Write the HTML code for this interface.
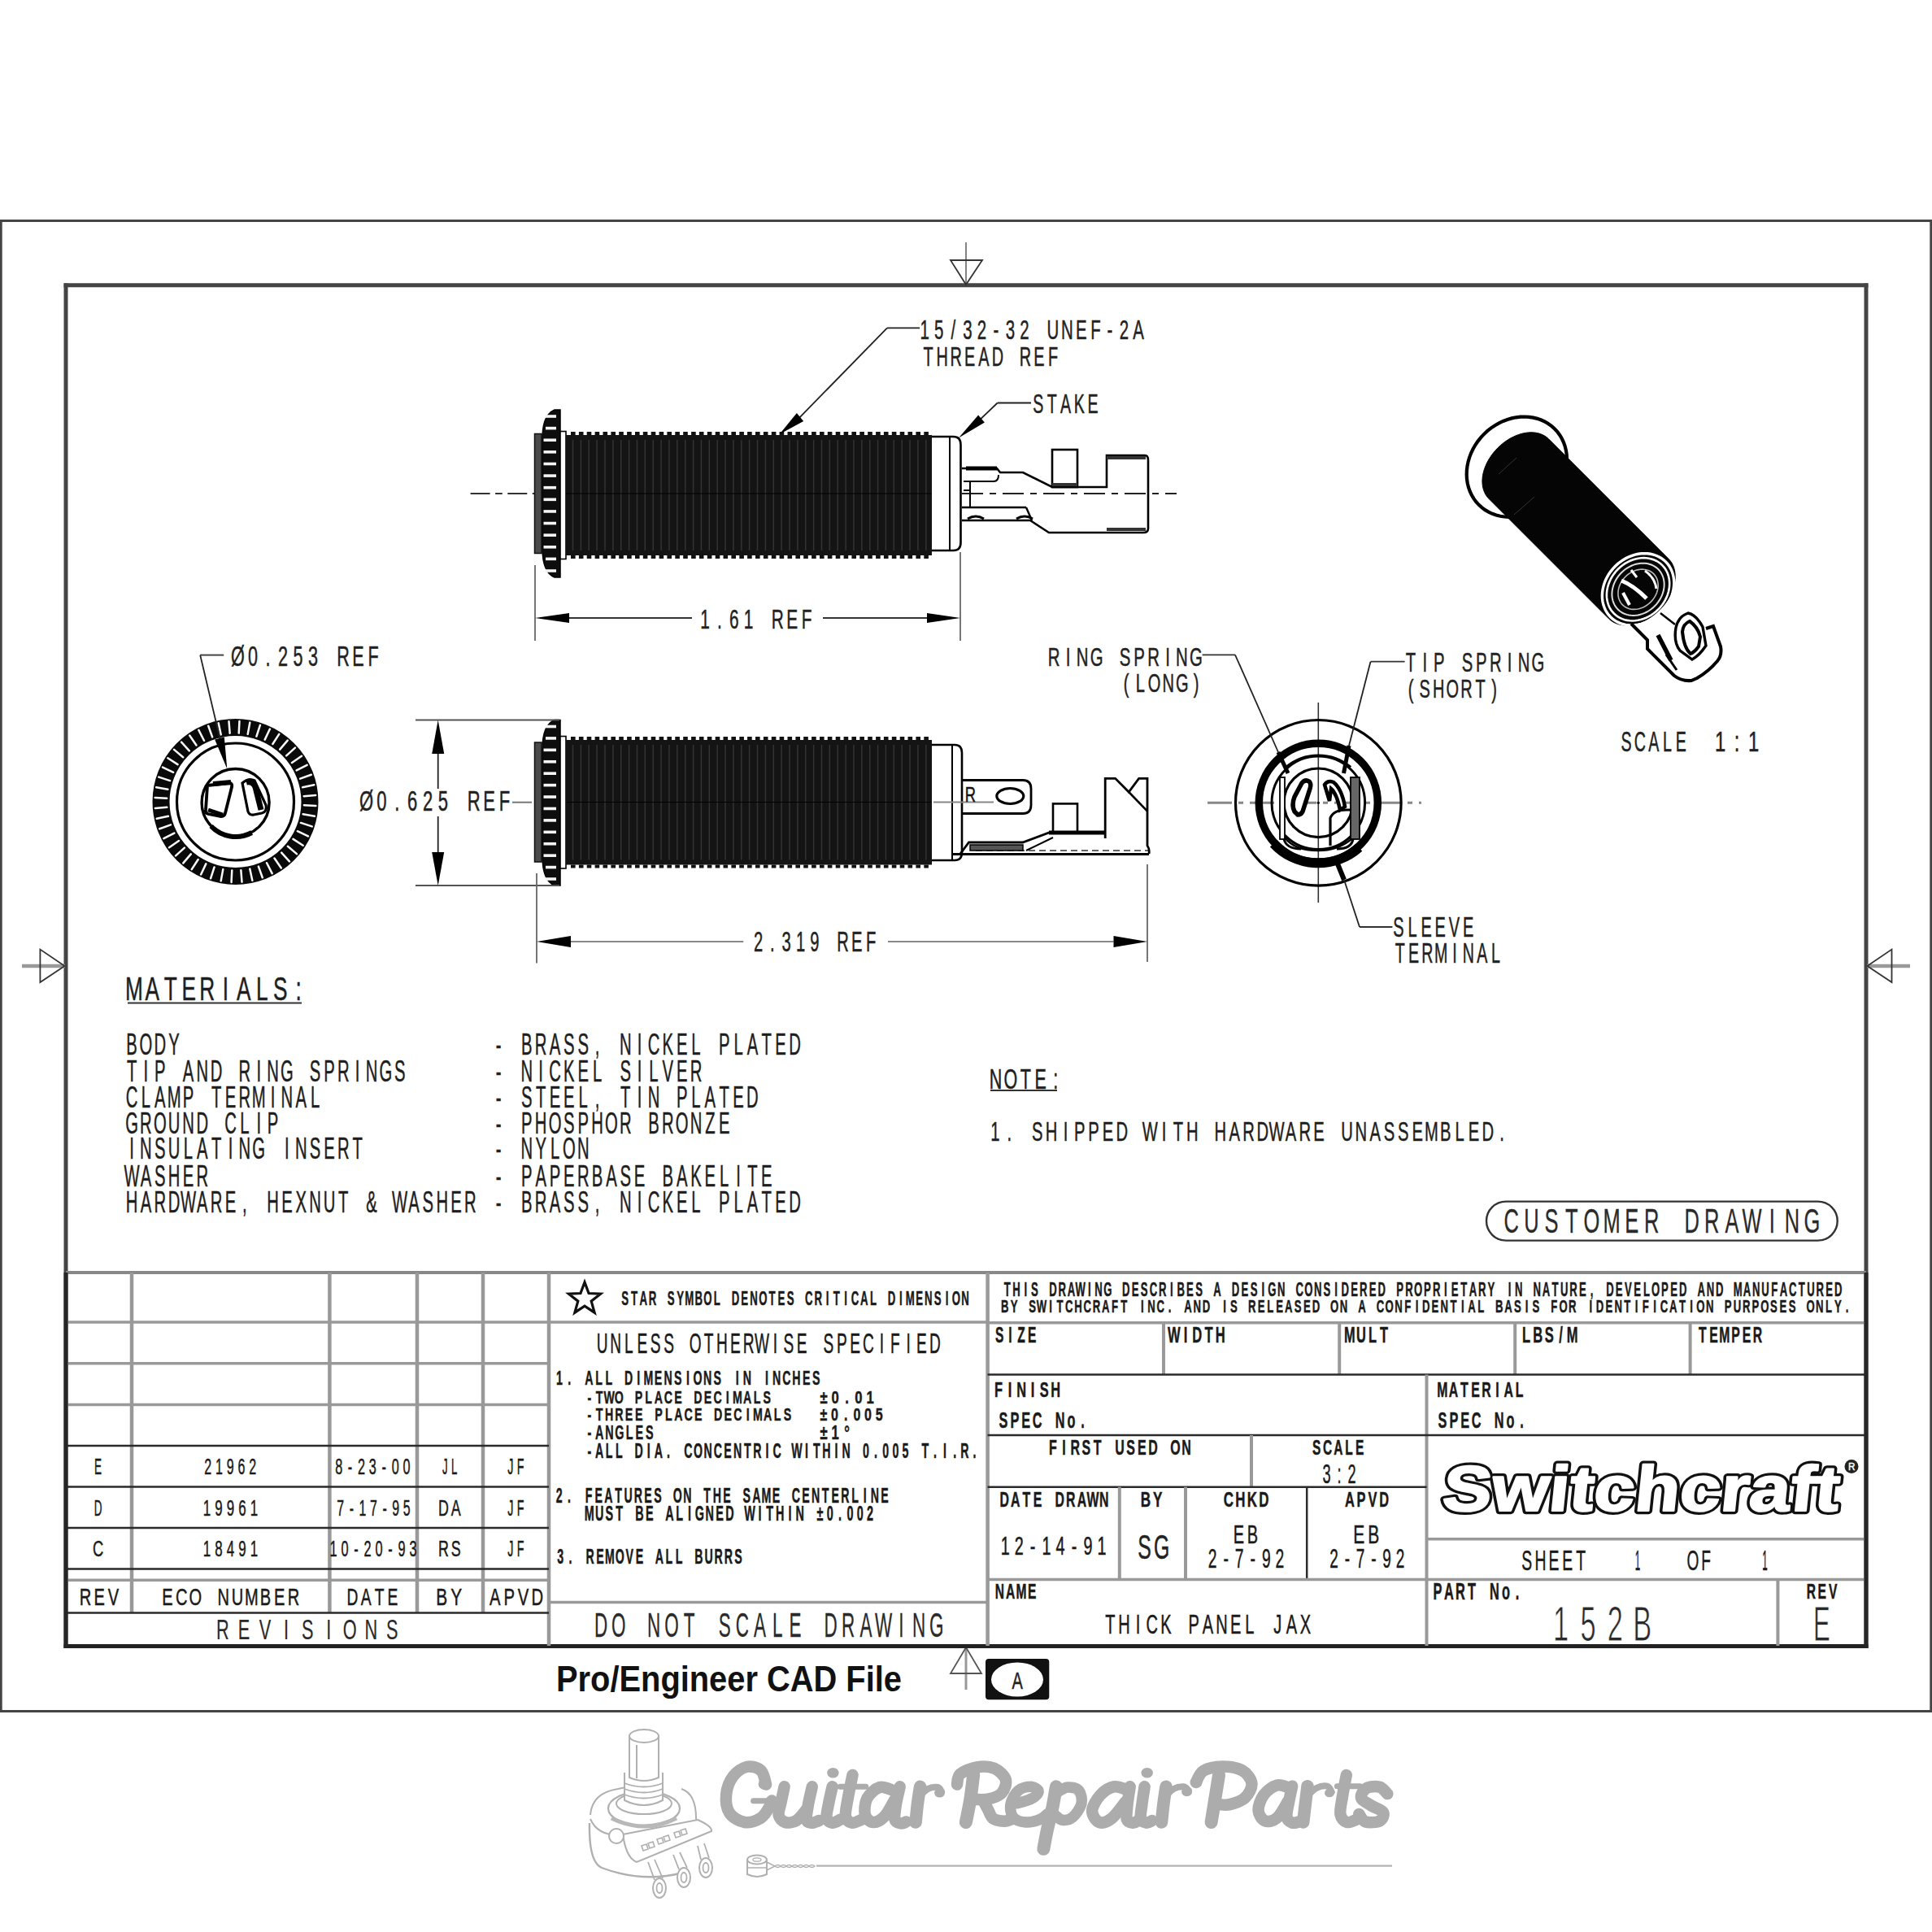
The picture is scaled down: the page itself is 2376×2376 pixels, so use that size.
<!DOCTYPE html>
<html><head><meta charset="utf-8"><title>Switchcraft 152B Thick Panel Jax</title>
<style>html,body{margin:0;padding:0;background:#fff;width:2376px;height:2376px;overflow:hidden}svg{display:block;font-family:"Liberation Sans",sans-serif}</style>
</head><body>
<svg width="2376" height="2376" viewBox="0 0 2376 2376"><rect x="0" y="0" width="2376" height="2376" fill="#fff"/>
<line x1="0.00" y1="271.50" x2="2376.00" y2="271.50" stroke="#444" stroke-width="3.00"/>
<line x1="1.30" y1="270.00" x2="1.30" y2="2106.00" stroke="#444" stroke-width="2.80"/>
<line x1="2374.70" y1="270.00" x2="2374.70" y2="2106.00" stroke="#444" stroke-width="2.80"/>
<line x1="0.00" y1="2104.50" x2="2376.00" y2="2104.50" stroke="#444" stroke-width="3.00"/>
<line x1="78.50" y1="350.80" x2="2297.50" y2="350.80" stroke="#444" stroke-width="5.00"/>
<line x1="81.00" y1="348.50" x2="81.00" y2="2027.00" stroke="#444" stroke-width="5.00"/>
<line x1="2295.00" y1="348.50" x2="2295.00" y2="2027.00" stroke="#444" stroke-width="5.00"/>
<line x1="1188.00" y1="298.00" x2="1188.00" y2="350.00" stroke="#777" stroke-width="1.80"/>
<path d="M1169,320 L1208,320 L1188,350 Z" fill="none" stroke="#333" stroke-width="1.80"/>
<line x1="1188.00" y1="2025.00" x2="1188.00" y2="2078.00" stroke="#999" stroke-width="3.00"/>
<path d="M1169,2058 L1207,2058 L1188,2026 Z" fill="none" stroke="#555" stroke-width="1.80"/>
<line x1="27.00" y1="1188.00" x2="80.00" y2="1188.00" stroke="#999" stroke-width="4.50"/>
<path d="M49.4,1167.6 L49.4,1208 L79.5,1188 Z" fill="none" stroke="#333" stroke-width="1.80"/>
<line x1="2296.00" y1="1188.00" x2="2349.00" y2="1188.00" stroke="#999" stroke-width="4.50"/>
<path d="M2326.5,1167.6 L2326.5,1208 L2296.4,1188 Z" fill="none" stroke="#333" stroke-width="1.80"/>
<line x1="81.00" y1="1565.00" x2="2295.00" y2="1565.00" stroke="#888" stroke-width="4.00"/>
<line x1="78.50" y1="2024.50" x2="2297.50" y2="2024.50" stroke="#222" stroke-width="5.00"/>
<line x1="675.00" y1="1565.00" x2="675.00" y2="2024.00" stroke="#999" stroke-width="4.50"/>
<line x1="1214.60" y1="1565.00" x2="1214.60" y2="2024.00" stroke="#999" stroke-width="4.50"/>
<line x1="162.00" y1="1565.00" x2="162.00" y2="1983.40" stroke="#999" stroke-width="4.50"/>
<line x1="405.40" y1="1565.00" x2="405.40" y2="1983.40" stroke="#999" stroke-width="4.50"/>
<line x1="513.00" y1="1565.00" x2="513.00" y2="1983.40" stroke="#999" stroke-width="4.50"/>
<line x1="594.00" y1="1565.00" x2="594.00" y2="1983.40" stroke="#999" stroke-width="4.50"/>
<line x1="81.00" y1="1626.00" x2="675.00" y2="1626.00" stroke="#999" stroke-width="3.50"/>
<line x1="81.00" y1="1676.80" x2="675.00" y2="1676.80" stroke="#999" stroke-width="3.50"/>
<line x1="81.00" y1="1727.50" x2="675.00" y2="1727.50" stroke="#999" stroke-width="3.50"/>
<line x1="81.00" y1="1778.00" x2="675.00" y2="1778.00" stroke="#2a2a2a" stroke-width="2.50"/>
<line x1="81.00" y1="1828.40" x2="675.00" y2="1828.40" stroke="#2a2a2a" stroke-width="2.50"/>
<line x1="81.00" y1="1879.10" x2="675.00" y2="1879.10" stroke="#2a2a2a" stroke-width="2.50"/>
<line x1="81.00" y1="1929.50" x2="675.00" y2="1929.50" stroke="#2a2a2a" stroke-width="2.50"/>
<line x1="81.00" y1="1943.30" x2="675.00" y2="1943.30" stroke="#999" stroke-width="3.50"/>
<line x1="81.00" y1="1983.40" x2="675.00" y2="1983.40" stroke="#2a2a2a" stroke-width="2.50"/>
<line x1="675.00" y1="1626.00" x2="1214.60" y2="1626.00" stroke="#999" stroke-width="3.50"/>
<line x1="675.00" y1="1970.60" x2="1214.60" y2="1970.60" stroke="#999" stroke-width="3.50"/>
<line x1="1214.60" y1="1626.80" x2="2295.00" y2="1626.80" stroke="#999" stroke-width="3.50"/>
<line x1="1431.00" y1="1626.80" x2="1431.00" y2="1690.60" stroke="#999" stroke-width="4.00"/>
<line x1="1647.20" y1="1626.80" x2="1647.20" y2="1690.60" stroke="#999" stroke-width="4.00"/>
<line x1="1863.20" y1="1626.80" x2="1863.20" y2="1690.60" stroke="#999" stroke-width="4.00"/>
<line x1="2078.60" y1="1626.80" x2="2078.60" y2="1690.60" stroke="#999" stroke-width="4.00"/>
<line x1="1214.60" y1="1690.60" x2="2295.00" y2="1690.60" stroke="#2a2a2a" stroke-width="2.50"/>
<line x1="1754.50" y1="1690.60" x2="1754.50" y2="2024.00" stroke="#999" stroke-width="4.00"/>
<line x1="1214.60" y1="1765.00" x2="2295.00" y2="1765.00" stroke="#2a2a2a" stroke-width="2.50"/>
<line x1="1539.00" y1="1765.00" x2="1539.00" y2="1828.70" stroke="#999" stroke-width="4.00"/>
<line x1="1214.60" y1="1828.70" x2="1754.50" y2="1828.70" stroke="#2a2a2a" stroke-width="2.50"/>
<line x1="1376.80" y1="1828.70" x2="1376.80" y2="1942.60" stroke="#999" stroke-width="4.00"/>
<line x1="1458.00" y1="1828.70" x2="1458.00" y2="1942.60" stroke="#999" stroke-width="4.00"/>
<line x1="1607.20" y1="1828.70" x2="1607.20" y2="1942.60" stroke="#2a2a2a" stroke-width="2.50"/>
<line x1="1754.50" y1="1892.80" x2="2295.00" y2="1892.80" stroke="#999" stroke-width="3.50"/>
<line x1="1214.60" y1="1942.60" x2="2295.00" y2="1942.60" stroke="#999" stroke-width="3.50"/>
<line x1="2186.40" y1="1942.60" x2="2186.40" y2="2024.00" stroke="#999" stroke-width="4.00"/>
<text transform="translate(0 1813.30) scale(0.4812 1)" x="250.50" y="0" font-size="28.05" font-family="Liberation Sans" font-weight="normal" fill="#1a1a1a" text-anchor="middle" stroke="#1a1a1a" stroke-width="0.50">E</text>
<text transform="translate(0 1813.30) scale(0.5707 1)" x="448.19 472.24 496.28 520.33 544.37" y="0" font-size="28.05" font-family="Liberation Sans" font-weight="normal" fill="#1a1a1a" text-anchor="middle" stroke="#1a1a1a" stroke-width="0.50">21962</text>
<text transform="translate(0 1813.30) scale(0.5779 1)" x="721.00 745.04 769.09 793.13 817.17 841.22 865.26" y="0" font-size="28.05" font-family="Liberation Sans" font-weight="normal" fill="#1a1a1a" text-anchor="middle" stroke="#1a1a1a" stroke-width="0.50">8-23-00</text>
<text transform="translate(0 1813.30) scale(0.4697 1)" x="1165.30 1189.34" y="0" font-size="28.05" font-family="Liberation Sans" font-weight="normal" fill="#1a1a1a" text-anchor="middle" stroke="#1a1a1a" stroke-width="0.50">JL</text>
<text transform="translate(0 1813.30) scale(0.5089 1)" x="1233.92 1257.96" y="0" font-size="28.05" font-family="Liberation Sans" font-weight="normal" fill="#1a1a1a" text-anchor="middle" stroke="#1a1a1a" stroke-width="0.50">JF</text>
<text transform="translate(0 1864.00) scale(0.4994 1)" x="241.41" y="0" font-size="27.03" font-family="Liberation Sans" font-weight="normal" fill="#1a1a1a" text-anchor="middle" stroke="#1a1a1a" stroke-width="0.50">D</text>
<text transform="translate(0 1864.00) scale(0.6255 1)" x="406.88 430.05 453.22 476.40 499.57" y="0" font-size="27.03" font-family="Liberation Sans" font-weight="normal" fill="#1a1a1a" text-anchor="middle" stroke="#1a1a1a" stroke-width="0.50">19961</text>
<text transform="translate(0 1864.00) scale(0.5861 1)" x="714.45 737.62 760.79 783.96 807.14 830.31 853.48" y="0" font-size="27.03" font-family="Liberation Sans" font-weight="normal" fill="#1a1a1a" text-anchor="middle" stroke="#1a1a1a" stroke-width="0.50">7-17-95</text>
<text transform="translate(0 1864.00) scale(0.6600 1)" x="826.29 849.46" y="0" font-size="27.03" font-family="Liberation Sans" font-weight="normal" fill="#1a1a1a" text-anchor="middle" stroke="#1a1a1a" stroke-width="0.50">DA</text>
<text transform="translate(0 1864.00) scale(0.5280 1)" x="1189.16 1212.34" y="0" font-size="27.03" font-family="Liberation Sans" font-weight="normal" fill="#1a1a1a" text-anchor="middle" stroke="#1a1a1a" stroke-width="0.50">JF</text>
<text transform="translate(0 1914.40) scale(0.6502 1)" x="185.34" y="0" font-size="28.20" font-family="Liberation Sans" font-weight="normal" fill="#1a1a1a" text-anchor="middle" stroke="#1a1a1a" stroke-width="0.50">C</text>
<text transform="translate(0 1914.40) scale(0.5997 1)" x="424.38 448.55 472.72 496.89 521.06" y="0" font-size="28.20" font-family="Liberation Sans" font-weight="normal" fill="#1a1a1a" text-anchor="middle" stroke="#1a1a1a" stroke-width="0.50">18491</text>
<text transform="translate(0 1914.40) scale(0.5787 1)" x="708.68 732.85 757.02 781.19 805.36 829.53 853.70 877.87" y="0" font-size="28.20" font-family="Liberation Sans" font-weight="normal" fill="#1a1a1a" text-anchor="middle" stroke="#1a1a1a" stroke-width="0.50">10-20-93</text>
<text transform="translate(0 1914.40) scale(0.6328 1)" x="861.83 886.00" y="0" font-size="28.20" font-family="Liberation Sans" font-weight="normal" fill="#1a1a1a" text-anchor="middle" stroke="#1a1a1a" stroke-width="0.50">RS</text>
<text transform="translate(0 1914.40) scale(0.5062 1)" x="1240.31 1264.48" y="0" font-size="28.20" font-family="Liberation Sans" font-weight="normal" fill="#1a1a1a" text-anchor="middle" stroke="#1a1a1a" stroke-width="0.50">JF</text>
<text transform="translate(0 1973.80) scale(0.6843 1)" x="153.33 178.49 203.66" y="0" font-size="29.36" font-family="Liberation Sans" font-weight="normal" fill="#1a1a1a" text-anchor="middle" stroke="#1a1a1a" stroke-width="0.50">REV</text>
<text transform="translate(0 1973.80) scale(0.6837 1)" x="301.33 326.50 351.66 402.00 427.16 452.33 477.49 502.66 527.83" y="0" font-size="29.36" font-family="Liberation Sans" font-weight="normal" fill="#1a1a1a" text-anchor="middle" stroke="#1a1a1a" stroke-width="0.50">ECONUMBER</text>
<text transform="translate(0 1973.80) scale(0.6551 1)" x="661.83 687.00 712.16 737.33" y="0" font-size="29.36" font-family="Liberation Sans" font-weight="normal" fill="#1a1a1a" text-anchor="middle" stroke="#1a1a1a" stroke-width="0.50">DATE</text>
<text transform="translate(0 1973.80) scale(0.7106 1)" x="764.54 789.70" y="0" font-size="29.36" font-family="Liberation Sans" font-weight="normal" fill="#1a1a1a" text-anchor="middle" stroke="#1a1a1a" stroke-width="0.50">BY</text>
<text transform="translate(0 1973.80) scale(0.6895 1)" x="882.95 908.12 933.29 958.45" y="0" font-size="29.36" font-family="Liberation Sans" font-weight="normal" fill="#1a1a1a" text-anchor="middle" stroke="#1a1a1a" stroke-width="0.50">APVD</text>
<text transform="translate(0 2015.50) scale(0.6197 1)" x="442.04 484.08 526.11 568.14 610.18 652.21 694.25 736.28 778.32" y="0" font-size="35.03" font-family="Liberation Sans" font-weight="normal" fill="#2a2a2a" text-anchor="middle" stroke="#2a2a2a" stroke-width="0.20">REVISIONS</text>
<polygon points="719.00,1576.90 724.05,1590.54 738.59,1591.13 727.18,1600.16 731.11,1614.17 719.00,1606.10 706.89,1614.17 710.82,1600.16 699.41,1591.13 713.95,1590.54" fill="none" stroke="#111" stroke-width="3.2" stroke-linejoin="miter"/>
<text transform="translate(0 1604.60) scale(0.5603 1)" x="1371.95 1392.13 1412.32 1432.50 1472.87 1493.05 1513.23 1533.41 1553.60 1573.78 1614.14 1634.33 1654.51 1674.69 1694.88 1715.06 1735.24 1775.61 1795.79 1815.97 1836.15 1856.34 1876.52 1896.70 1916.89 1957.25 1977.43 1997.62 2017.80 2037.98 2058.16 2078.35 2098.53 2118.71" y="0" font-size="23.55" font-family="Liberation Sans" font-weight="bold" fill="#1a1a1a" text-anchor="middle" stroke="#1a1a1a" stroke-width="0.50">STARSYMBOLDENOTESCRITICALDIMENSION</text>
<text transform="translate(0 1663.60) scale(0.5566 1)" x="1330.76 1360.16 1389.56 1418.96 1448.37 1477.77 1536.57 1565.97 1595.38 1624.78 1654.18 1683.58 1712.98 1742.39 1771.79 1830.59 1859.99 1889.40 1918.80 1948.20 1977.60 2007.00 2036.41 2065.81" y="0" font-size="34.30" font-family="Liberation Sans" font-weight="normal" fill="#1a1a1a" text-anchor="middle" stroke="#1a1a1a" stroke-width="0.50">UNLESSOTHERWISESPECIFIED</text>
<text transform="translate(0 1703.40) scale(0.5944 1)" x="1157.52 1177.95 1218.81 1239.25 1259.68 1300.54 1320.97 1341.40 1361.84 1382.27 1402.70 1423.13 1443.56 1464.00 1484.43 1525.29 1545.72 1586.59 1607.02 1627.45 1647.88 1668.32 1688.75" y="0" font-size="23.84" font-family="Liberation Sans" font-weight="bold" fill="#1a1a1a" text-anchor="middle" stroke="#1a1a1a" stroke-width="0.50">1.ALLDIMENSIONSININCHES</text>
<text transform="translate(0 1726.40) scale(0.6244 1)" x="1160.87 1180.30 1199.74 1219.18 1258.05 1277.48 1296.92 1316.35 1335.79 1374.66 1394.09 1413.53 1432.96 1452.40 1471.83 1491.27 1510.70" y="0" font-size="22.67" font-family="Liberation Sans" font-weight="bold" fill="#1a1a1a" text-anchor="middle" stroke="#1a1a1a" stroke-width="0.50">-TWOPLACEDECIMALS</text>
<text transform="translate(0 1747.00) scale(0.6265 1)" x="1156.99 1176.43 1195.86 1215.30 1234.73 1254.17 1293.04 1312.47 1331.91 1351.34 1370.78 1409.65 1429.09 1448.52 1467.96 1487.39 1506.83 1526.26 1545.70" y="0" font-size="22.67" font-family="Liberation Sans" font-weight="bold" fill="#1a1a1a" text-anchor="middle" stroke="#1a1a1a" stroke-width="0.50">-THREEPLACEDECIMALS</text>
<text transform="translate(0 1769.80) scale(0.6094 1)" x="1189.55 1209.73 1229.92 1250.10 1270.28 1290.46 1310.65" y="0" font-size="23.55" font-family="Liberation Sans" font-weight="bold" fill="#1a1a1a" text-anchor="middle" stroke="#1a1a1a" stroke-width="0.50">-ANGLES</text>
<text transform="translate(0 1726.40) scale(0.7345 1)" x="1379.13 1398.56 1418.00 1437.43 1456.87" y="0" font-size="22.67" font-family="Liberation Sans" font-weight="bold" fill="#1a1a1a" text-anchor="middle" stroke="#1a1a1a" stroke-width="0.50">±0.01</text>
<text transform="translate(0 1747.00) scale(0.7041 1)" x="1438.43 1457.87 1477.30 1496.74 1516.17 1535.61" y="0" font-size="22.67" font-family="Liberation Sans" font-weight="bold" fill="#1a1a1a" text-anchor="middle" stroke="#1a1a1a" stroke-width="0.50">±0.005</text>
<text transform="translate(0 1769.80) scale(0.7065 1)" x="1433.80 1453.98 1474.16" y="0" font-size="23.55" font-family="Liberation Sans" font-weight="bold" fill="#1a1a1a" text-anchor="middle" stroke="#1a1a1a" stroke-width="0.50">±1°</text>
<text transform="translate(0 1793.40) scale(0.5507 1)" x="1316.34 1338.39 1360.45 1382.50 1426.60 1448.65 1470.70 1492.76 1536.86 1558.91 1580.96 1603.01 1625.06 1647.12 1669.17 1691.22 1713.27 1735.32 1779.42 1801.48 1823.53 1845.58 1867.63 1889.68 1933.78 1955.84 1977.89 1999.94 2021.99 2066.09 2088.15 2110.20 2132.25 2154.30 2176.35" y="0" font-size="25.73" font-family="Liberation Sans" font-weight="bold" fill="#1a1a1a" text-anchor="middle" stroke="#1a1a1a" stroke-width="0.50">-ALLDIA.CONCENTRICWITHIN0.005T.I.R.</text>
<text transform="translate(0 1847.50) scale(0.5498 1)" x="1251.01 1273.06 1317.16 1339.21 1361.26 1383.31 1405.37 1427.42 1449.47 1471.52 1515.62 1537.68 1581.78 1603.83 1625.88 1669.98 1692.04 1714.09 1736.14 1780.24 1802.29 1824.34 1846.40 1868.45 1890.50 1912.55 1934.60 1956.65 1978.71" y="0" font-size="25.73" font-family="Liberation Sans" font-weight="bold" fill="#1a1a1a" text-anchor="middle" stroke="#1a1a1a" stroke-width="0.50">2.FEATURESONTHESAMECENTERLINE</text>
<text transform="translate(0 1869.70) scale(0.5593 1)" x="1295.82 1317.87 1339.92 1361.98 1406.08 1428.13 1472.23 1494.28 1516.34 1538.39 1560.44 1582.49 1604.54 1648.65 1670.70 1692.75 1714.80 1736.85 1758.90 1803.01 1825.06 1847.11 1869.16 1891.21 1913.26" y="0" font-size="25.73" font-family="Liberation Sans" font-weight="bold" fill="#1a1a1a" text-anchor="middle" stroke="#1a1a1a" stroke-width="0.50">MUSTBEALIGNEDWITHIN±0.002</text>
<text transform="translate(0 1922.80) scale(0.5479 1)" x="1258.05 1280.22 1324.57 1346.75 1368.93 1391.10 1413.28 1435.45 1479.81 1501.98 1524.16 1568.51 1590.69 1612.86 1635.04 1657.21" y="0" font-size="25.87" font-family="Liberation Sans" font-weight="bold" fill="#1a1a1a" text-anchor="middle" stroke="#1a1a1a" stroke-width="0.50">3.REMOVEALLBURRS</text>
<text transform="translate(0 2012.70) scale(0.5201 1)" x="1420.94 1462.72 1546.27 1588.05 1629.82 1713.38 1755.15 1796.93 1838.70 1880.48 1964.03 2005.81 2047.58 2089.36 2131.14 2172.91 2214.69" y="0" font-size="43.17" font-family="Liberation Sans" font-weight="normal" fill="#2a2a2a" text-anchor="middle" stroke="#2a2a2a" stroke-width="0.30">DONOTSCALEDRAWING</text>
<text transform="translate(0 1593.50) scale(0.5634 1)" x="2198.76 2218.69 2238.63 2258.56 2298.43 2318.36 2338.30 2358.23 2378.16 2398.10 2418.03 2457.90 2477.83 2497.76 2517.70 2537.63 2557.57 2577.50 2597.43 2617.37 2657.23 2697.10 2717.03 2736.97 2756.90 2776.83 2796.77 2836.63 2856.57 2876.50 2896.44 2916.37 2936.30 2956.24 2976.17 2996.10 3016.04 3055.90 3075.84 3095.77 3115.70 3135.64 3155.57 3175.51 3195.44 3215.37 3235.31 3255.24 3295.11 3315.04 3354.91 3374.84 3394.77 3414.71 3434.64 3454.58 3474.51 3514.38 3534.31 3554.24 3574.18 3594.11 3614.04 3633.98 3653.91 3673.84 3713.71 3733.64 3753.58 3793.45 3813.38 3833.31 3853.25 3873.18 3893.11 3913.05 3932.98 3952.91 3972.85 3992.78 4012.71" y="0" font-size="23.26" font-family="Liberation Sans" font-weight="bold" fill="#1a1a1a" text-anchor="middle" stroke="#1a1a1a" stroke-width="0.50">THISDRAWINGDESCRIBESADESIGNCONSIDEREDPROPRIETARYINNATURE,DEVELOPEDANDMANUFACTURED</text>
<text transform="translate(0 1614.30) scale(0.6024 1)" x="2051.58 2070.27 2107.65 2126.33 2145.02 2163.71 2182.40 2201.08 2219.77 2238.46 2257.15 2275.83 2294.52 2331.90 2350.59 2369.27 2387.96 2425.34 2444.02 2462.71 2500.09 2518.77 2556.15 2574.84 2593.53 2612.21 2630.90 2649.59 2668.28 2686.96 2724.34 2743.03 2780.40 2817.78 2836.47 2855.15 2873.84 2892.53 2911.22 2929.90 2948.59 2967.28 2985.97 3004.66 3023.34 3060.72 3079.41 3098.09 3116.78 3135.47 3172.84 3191.53 3210.22 3247.60 3266.28 3284.97 3303.66 3322.35 3341.03 3359.72 3378.41 3397.10 3415.78 3434.47 3453.16 3471.85 3490.54 3527.91 3546.60 3565.29 3583.97 3602.66 3621.35 3640.04 3658.73 3696.10 3714.79 3733.48 3752.16 3770.85" y="0" font-size="21.80" font-family="Liberation Sans" font-weight="bold" fill="#1a1a1a" text-anchor="middle" stroke="#1a1a1a" stroke-width="0.50">BYSWITCHCRAFTINC.ANDISRELEASEDONACONFIDENTIALBASISFORIDENTIFICATIONPURPOSESONLY.</text>
<text transform="translate(0 1651.40) scale(0.5700 1)" x="2156.48 2179.90 2203.33 2226.75" y="0" font-size="27.33" font-family="Liberation Sans" font-weight="bold" fill="#1a1a1a" text-anchor="middle" stroke="#1a1a1a" stroke-width="0.50">SIZE</text>
<text transform="translate(0 1651.40) scale(0.6068 1)" x="2379.60 2403.02 2426.44 2449.86 2473.29" y="0" font-size="27.33" font-family="Liberation Sans" font-weight="bold" fill="#1a1a1a" text-anchor="middle" stroke="#1a1a1a" stroke-width="0.50">WIDTH</text>
<text transform="translate(0 1651.40) scale(0.6000 1)" x="2766.35 2789.78 2813.20 2836.62" y="0" font-size="27.33" font-family="Liberation Sans" font-weight="bold" fill="#1a1a1a" text-anchor="middle" stroke="#1a1a1a" stroke-width="0.50">MULT</text>
<text transform="translate(0 1651.40) scale(0.6050 1)" x="3102.42 3125.85 3149.27 3172.69 3196.11" y="0" font-size="27.33" font-family="Liberation Sans" font-weight="bold" fill="#1a1a1a" text-anchor="middle" stroke="#1a1a1a" stroke-width="0.50">LBS/M</text>
<text transform="translate(0 1651.40) scale(0.5768 1)" x="3630.17 3653.59 3677.01 3700.44 3723.86 3747.28" y="0" font-size="27.33" font-family="Liberation Sans" font-weight="bold" fill="#1a1a1a" text-anchor="middle" stroke="#1a1a1a" stroke-width="0.50">TEMPER</text>
<text transform="translate(0 1718.00) scale(0.6259 1)" x="1961.96 1984.38 2006.81 2029.23 2051.66 2074.08" y="0" font-size="26.16" font-family="Liberation Sans" font-weight="bold" fill="#1a1a1a" text-anchor="middle" stroke="#1a1a1a" stroke-width="0.50">FINISH</text>
<text transform="translate(0 1755.80) scale(0.5954 1)" x="2072.34 2095.76 2119.18 2142.60 2189.45 2212.87 2236.29" y="0" font-size="27.33" font-family="Liberation Sans" font-weight="bold" fill="#1a1a1a" text-anchor="middle" stroke="#1a1a1a" stroke-width="0.50">SPECNo.</text>
<text transform="translate(0 1718.00) scale(0.6285 1)" x="2822.33 2843.88 2865.43 2886.99 2908.54 2930.09 2951.65 2973.20" y="0" font-size="25.15" font-family="Liberation Sans" font-weight="bold" fill="#1a1a1a" text-anchor="middle" stroke="#1a1a1a" stroke-width="0.50">MATERIAL</text>
<text transform="translate(0 1755.80) scale(0.5954 1)" x="2979.28 3002.71 3026.13 3049.55 3096.39 3119.82 3143.24" y="0" font-size="27.33" font-family="Liberation Sans" font-weight="bold" fill="#1a1a1a" text-anchor="middle" stroke="#1a1a1a" stroke-width="0.50">SPECNo.</text>
<text transform="translate(0 1789.00) scale(0.6313 1)" x="2051.01 2072.69 2094.36 2116.04 2137.72 2181.07 2202.75 2224.43 2246.11 2289.46 2311.14" y="0" font-size="25.29" font-family="Liberation Sans" font-weight="bold" fill="#1a1a1a" text-anchor="middle" stroke="#1a1a1a" stroke-width="0.50">FIRSTUSEDON</text>
<text transform="translate(0 1789.00) scale(0.6115 1)" x="2647.94 2669.62 2691.30 2712.97 2734.65" y="0" font-size="25.29" font-family="Liberation Sans" font-weight="bold" fill="#1a1a1a" text-anchor="middle" stroke="#1a1a1a" stroke-width="0.50">SCALE</text>
<text transform="translate(0 1823.80) scale(0.5382 1)" x="3031.37 3060.28 3089.18" y="0" font-size="33.72" font-family="Liberation Sans" font-weight="normal" fill="#1a1a1a" text-anchor="middle" stroke="#1a1a1a" stroke-width="0.50">3:2</text>
<text transform="translate(0 1853.30) scale(0.6098 1)" x="2025.67 2047.97 2070.27 2092.57 2137.17 2159.47 2181.77 2204.07 2226.37" y="0" font-size="26.02" font-family="Liberation Sans" font-weight="bold" fill="#1a1a1a" text-anchor="middle" stroke="#1a1a1a" stroke-width="0.50">DATEDRAWN</text>
<text transform="translate(0 1853.30) scale(0.6594 1)" x="2136.89 2159.19" y="0" font-size="26.02" font-family="Liberation Sans" font-weight="bold" fill="#1a1a1a" text-anchor="middle" stroke="#1a1a1a" stroke-width="0.50">BY</text>
<text transform="translate(0 1853.30) scale(0.6496 1)" x="2325.85 2348.15 2370.45 2392.75" y="0" font-size="26.02" font-family="Liberation Sans" font-weight="bold" fill="#1a1a1a" text-anchor="middle" stroke="#1a1a1a" stroke-width="0.50">CHKD</text>
<text transform="translate(0 1853.30) scale(0.6302 1)" x="2633.92 2656.22 2678.52 2700.82" y="0" font-size="26.02" font-family="Liberation Sans" font-weight="bold" fill="#1a1a1a" text-anchor="middle" stroke="#1a1a1a" stroke-width="0.50">APVD</text>
<text transform="translate(0 1912.20) scale(0.6243 1)" x="1980.23 2007.39 2034.55 2061.71 2088.87 2116.03 2143.19 2170.35" y="0" font-size="31.69" font-family="Liberation Sans" font-weight="normal" fill="#1a1a1a" text-anchor="middle" stroke="#1a1a1a" stroke-width="0.50">12-14-91</text>
<text transform="translate(0 1916.50) scale(0.5894 1)" x="2388.01 2424.14" y="0" font-size="42.15" font-family="Liberation Sans" font-weight="normal" fill="#222" text-anchor="middle" stroke="#222" stroke-width="0.50">SG</text>
<text transform="translate(0 1897.70) scale(0.6310 1)" x="2414.24 2441.28" y="0" font-size="31.54" font-family="Liberation Sans" font-weight="normal" fill="#1a1a1a" text-anchor="middle" stroke="#1a1a1a" stroke-width="0.50">EB</text>
<text transform="translate(0 1928.00) scale(0.5767 1)" x="2585.69 2614.35 2643.00 2671.66 2700.31 2728.97" y="0" font-size="33.43" font-family="Liberation Sans" font-weight="normal" fill="#1a1a1a" text-anchor="middle" stroke="#1a1a1a" stroke-width="0.50">2-7-92</text>
<text transform="translate(0 1897.70) scale(0.6658 1)" x="2510.19 2537.22" y="0" font-size="31.54" font-family="Liberation Sans" font-weight="normal" fill="#1a1a1a" text-anchor="middle" stroke="#1a1a1a" stroke-width="0.50">EB</text>
<text transform="translate(0 1928.00) scale(0.5676 1)" x="2890.43 2919.08 2947.74 2976.39 3005.04 3033.70" y="0" font-size="33.43" font-family="Liberation Sans" font-weight="normal" fill="#1a1a1a" text-anchor="middle" stroke="#1a1a1a" stroke-width="0.50">2-7-92</text>
<text transform="translate(0 1965.80) scale(0.6159 1)" x="1995.89 2017.57 2039.25 2060.93" y="0" font-size="25.29" font-family="Liberation Sans" font-weight="bold" fill="#1a1a1a" text-anchor="middle" stroke="#1a1a1a" stroke-width="0.50">NAME</text>
<text transform="translate(0 2009.00) scale(0.5987 1)" x="2280.48 2309.13 2337.79 2366.44 2395.10 2452.41 2481.06 2509.72 2538.37 2567.02 2624.33 2652.99 2681.64" y="0" font-size="33.43" font-family="Liberation Sans" font-weight="normal" fill="#1a1a1a" text-anchor="middle" stroke="#1a1a1a" stroke-width="0.50">THICKPANELJAX</text>
<text transform="translate(0 1931.00) scale(0.5415 1)" x="3467.80 3498.45 3529.10 3559.75 3590.39" y="0" font-size="35.76" font-family="Liberation Sans" font-weight="normal" fill="#1a1a1a" text-anchor="middle" stroke="#1a1a1a" stroke-width="0.50">SHEET</text>
<text transform="translate(0 1931.00) scale(0.3263 1)" x="6172.48" y="0" font-size="35.76" font-family="Liberation Sans" font-weight="normal" fill="#1a1a1a" text-anchor="middle" stroke="#1a1a1a" stroke-width="0.50">1</text>
<text transform="translate(0 1931.00) scale(0.5336 1)" x="3901.46 3932.11" y="0" font-size="35.76" font-family="Liberation Sans" font-weight="normal" fill="#1a1a1a" text-anchor="middle" stroke="#1a1a1a" stroke-width="0.50">OF</text>
<text transform="translate(0 1931.00) scale(0.3263 1)" x="6651.81" y="0" font-size="35.76" font-family="Liberation Sans" font-weight="normal" fill="#1a1a1a" text-anchor="middle" stroke="#1a1a1a" stroke-width="0.50">1</text>
<text transform="translate(0 1967.00) scale(0.5624 1)" x="3143.44 3168.36 3193.27 3218.19 3268.02 3292.94 3317.86" y="0" font-size="29.07" font-family="Liberation Sans" font-weight="bold" fill="#1a1a1a" text-anchor="middle" stroke="#1a1a1a" stroke-width="0.50">PARTNo.</text>
<text transform="translate(0 1966.00) scale(0.6115 1)" x="3642.59 3664.51 3686.44" y="0" font-size="25.58" font-family="Liberation Sans" font-weight="bold" fill="#1a1a1a" text-anchor="middle" stroke="#1a1a1a" stroke-width="0.50">REV</text>
<text transform="translate(0 2018.00) scale(0.5651 1)" x="3397.00 3456.08 3515.15 3574.23" y="0" font-size="61.05" font-family="Liberation Sans" font-weight="normal" fill="#2a2a2a" text-anchor="middle" stroke="#fff" stroke-width="0.90">152B</text>
<text transform="translate(0 2018.00) scale(0.5105 1)" x="4388.79" y="0" font-size="61.05" font-family="Liberation Sans" font-weight="normal" fill="#2a2a2a" text-anchor="middle" stroke="#fff" stroke-width="0.90">E</text>
<rect x="657.50" y="533.50" width="8.50" height="147.00" fill="#4a4a4a" stroke="#111" stroke-width="1.50" rx="0.00"/>
<path d="M689,504.0 L682,504.0 Q667,510.0 667,540.0 L667,674.0 Q667,704.0 682,710.0 L689,710.0 Z" fill="#0d0d0d" stroke="#000" stroke-width="1.50"/>
<rect x="671.00" y="510.20" width="13.00" height="3.60" fill="#f4f4f4" stroke="none" stroke-width="0.00" rx="0.00"/>
<rect x="671.00" y="524.82" width="13.00" height="3.60" fill="#f4f4f4" stroke="none" stroke-width="0.00" rx="0.00"/>
<rect x="668.50" y="539.43" width="15.50" height="3.60" fill="#f4f4f4" stroke="none" stroke-width="0.00" rx="0.00"/>
<rect x="668.50" y="554.05" width="15.50" height="3.60" fill="#f4f4f4" stroke="none" stroke-width="0.00" rx="0.00"/>
<rect x="668.50" y="568.66" width="15.50" height="3.60" fill="#f4f4f4" stroke="none" stroke-width="0.00" rx="0.00"/>
<rect x="668.50" y="583.28" width="15.50" height="3.60" fill="#f4f4f4" stroke="none" stroke-width="0.00" rx="0.00"/>
<rect x="668.50" y="597.89" width="15.50" height="3.60" fill="#f4f4f4" stroke="none" stroke-width="0.00" rx="0.00"/>
<rect x="668.50" y="612.51" width="15.50" height="3.60" fill="#f4f4f4" stroke="none" stroke-width="0.00" rx="0.00"/>
<rect x="668.50" y="627.12" width="15.50" height="3.60" fill="#f4f4f4" stroke="none" stroke-width="0.00" rx="0.00"/>
<rect x="668.50" y="641.74" width="15.50" height="3.60" fill="#f4f4f4" stroke="none" stroke-width="0.00" rx="0.00"/>
<rect x="668.50" y="656.35" width="15.50" height="3.60" fill="#f4f4f4" stroke="none" stroke-width="0.00" rx="0.00"/>
<rect x="668.50" y="670.97" width="15.50" height="3.60" fill="#f4f4f4" stroke="none" stroke-width="0.00" rx="0.00"/>
<rect x="671.00" y="685.58" width="13.00" height="3.60" fill="#f4f4f4" stroke="none" stroke-width="0.00" rx="0.00"/>
<rect x="671.00" y="700.20" width="13.00" height="3.60" fill="#f4f4f4" stroke="none" stroke-width="0.00" rx="0.00"/>
<rect x="689.00" y="530.50" width="7.00" height="157.00" fill="#fff" stroke="#000" stroke-width="1.60" rx="0.00"/>
<rect x="696.00" y="535.00" width="450.00" height="148.00" fill="#141414" stroke="none" stroke-width="0.00" rx="0.00"/>
<path d="M704.5,541.0V677.0M714.4,541.0V677.0M724.2,541.0V677.0M734.1,541.0V677.0M744.0,541.0V677.0M753.9,541.0V677.0M763.7,541.0V677.0M773.6,541.0V677.0M783.5,541.0V677.0M793.3,541.0V677.0M803.2,541.0V677.0M813.1,541.0V677.0M822.9,541.0V677.0M832.8,541.0V677.0M842.7,541.0V677.0M852.6,541.0V677.0M862.4,541.0V677.0M872.3,541.0V677.0M882.2,541.0V677.0M892.0,541.0V677.0M901.9,541.0V677.0M911.8,541.0V677.0M921.6,541.0V677.0M931.5,541.0V677.0M941.4,541.0V677.0M951.3,541.0V677.0M961.1,541.0V677.0M971.0,541.0V677.0M980.9,541.0V677.0M990.7,541.0V677.0M1000.6,541.0V677.0M1010.5,541.0V677.0M1020.3,541.0V677.0M1030.2,541.0V677.0M1040.1,541.0V677.0M1049.9,541.0V677.0M1059.8,541.0V677.0M1069.7,541.0V677.0M1079.6,541.0V677.0M1089.4,541.0V677.0M1099.3,541.0V677.0M1109.2,541.0V677.0M1119.0,541.0V677.0M1128.9,541.0V677.0M1138.8,541.0V677.0" fill="none" stroke="#333" stroke-width="1.50"/>
<path d="M702.0,531.0h5.6v4h-5.6zM702.0,683.0h5.6v4h-5.6zM711.9,531.0h5.6v4h-5.6zM711.9,683.0h5.6v4h-5.6zM721.7,531.0h5.6v4h-5.6zM721.7,683.0h5.6v4h-5.6zM731.6,531.0h5.6v4h-5.6zM731.6,683.0h5.6v4h-5.6zM741.5,531.0h5.6v4h-5.6zM741.5,683.0h5.6v4h-5.6zM751.4,531.0h5.6v4h-5.6zM751.4,683.0h5.6v4h-5.6zM761.2,531.0h5.6v4h-5.6zM761.2,683.0h5.6v4h-5.6zM771.1,531.0h5.6v4h-5.6zM771.1,683.0h5.6v4h-5.6zM781.0,531.0h5.6v4h-5.6zM781.0,683.0h5.6v4h-5.6zM790.8,531.0h5.6v4h-5.6zM790.8,683.0h5.6v4h-5.6zM800.7,531.0h5.6v4h-5.6zM800.7,683.0h5.6v4h-5.6zM810.6,531.0h5.6v4h-5.6zM810.6,683.0h5.6v4h-5.6zM820.4,531.0h5.6v4h-5.6zM820.4,683.0h5.6v4h-5.6zM830.3,531.0h5.6v4h-5.6zM830.3,683.0h5.6v4h-5.6zM840.2,531.0h5.6v4h-5.6zM840.2,683.0h5.6v4h-5.6zM850.1,531.0h5.6v4h-5.6zM850.1,683.0h5.6v4h-5.6zM859.9,531.0h5.6v4h-5.6zM859.9,683.0h5.6v4h-5.6zM869.8,531.0h5.6v4h-5.6zM869.8,683.0h5.6v4h-5.6zM879.7,531.0h5.6v4h-5.6zM879.7,683.0h5.6v4h-5.6zM889.5,531.0h5.6v4h-5.6zM889.5,683.0h5.6v4h-5.6zM899.4,531.0h5.6v4h-5.6zM899.4,683.0h5.6v4h-5.6zM909.3,531.0h5.6v4h-5.6zM909.3,683.0h5.6v4h-5.6zM919.1,531.0h5.6v4h-5.6zM919.1,683.0h5.6v4h-5.6zM929.0,531.0h5.6v4h-5.6zM929.0,683.0h5.6v4h-5.6zM938.9,531.0h5.6v4h-5.6zM938.9,683.0h5.6v4h-5.6zM948.8,531.0h5.6v4h-5.6zM948.8,683.0h5.6v4h-5.6zM958.6,531.0h5.6v4h-5.6zM958.6,683.0h5.6v4h-5.6zM968.5,531.0h5.6v4h-5.6zM968.5,683.0h5.6v4h-5.6zM978.4,531.0h5.6v4h-5.6zM978.4,683.0h5.6v4h-5.6zM988.2,531.0h5.6v4h-5.6zM988.2,683.0h5.6v4h-5.6zM998.1,531.0h5.6v4h-5.6zM998.1,683.0h5.6v4h-5.6zM1008.0,531.0h5.6v4h-5.6zM1008.0,683.0h5.6v4h-5.6zM1017.8,531.0h5.6v4h-5.6zM1017.8,683.0h5.6v4h-5.6zM1027.7,531.0h5.6v4h-5.6zM1027.7,683.0h5.6v4h-5.6zM1037.6,531.0h5.6v4h-5.6zM1037.6,683.0h5.6v4h-5.6zM1047.4,531.0h5.6v4h-5.6zM1047.4,683.0h5.6v4h-5.6zM1057.3,531.0h5.6v4h-5.6zM1057.3,683.0h5.6v4h-5.6zM1067.2,531.0h5.6v4h-5.6zM1067.2,683.0h5.6v4h-5.6zM1077.1,531.0h5.6v4h-5.6zM1077.1,683.0h5.6v4h-5.6zM1086.9,531.0h5.6v4h-5.6zM1086.9,683.0h5.6v4h-5.6zM1096.8,531.0h5.6v4h-5.6zM1096.8,683.0h5.6v4h-5.6zM1106.7,531.0h5.6v4h-5.6zM1106.7,683.0h5.6v4h-5.6zM1116.5,531.0h5.6v4h-5.6zM1116.5,683.0h5.6v4h-5.6zM1126.4,531.0h5.6v4h-5.6zM1126.4,683.0h5.6v4h-5.6zM1136.3,531.0h5.6v4h-5.6zM1136.3,683.0h5.6v4h-5.6z" fill="#111" stroke="none" stroke-width="0.00"/>
<path d="M1146.0,537.0 L1172.5,537.0 Q1181.5,537.0 1181.5,547.0 L1181.5,667.0 Q1181.5,677.0 1172.5,677.0 L1146.0,677.0" fill="#fff" stroke="#000" stroke-width="2.60"/>
<line x1="1168.00" y1="537.00" x2="1168.00" y2="677.00" stroke="#000" stroke-width="2.00"/>
<line x1="578.6" y1="607.0" x2="657.0" y2="607.0" stroke="#333" stroke-width="1.8" stroke-dasharray="24 6.5 8.7 6.5"/>
<line x1="696.00" y1="607.00" x2="1146.00" y2="607.00" stroke="#000" stroke-width="1.20"/>
<line x1="1183.0" y1="607.0" x2="1447.0" y2="607.0" stroke="#222" stroke-width="1.8" stroke-dasharray="26 8 8 8"/>
<path d="M1183,576 L1226,576 L1230,581 L1258,581 L1294,599 L1361,599 L1361,560 L1408,560 Q1412,560 1412,566 L1412,650 Q1412,655 1406,655 L1290,655 L1267,640 L1183,640" fill="none" stroke="#000" stroke-width="2.60"/>
<path d="M1185,592 L1222,592 Q1228,592 1228,584" fill="none" stroke="#000" stroke-width="2.00"/>
<line x1="1188.00" y1="576.00" x2="1226.00" y2="576.00" stroke="#000" stroke-width="5.00"/>
<rect x="1294.00" y="553.00" width="31.00" height="46.00" fill="#fff" stroke="#000" stroke-width="2.60" rx="0.00"/>
<line x1="1294.00" y1="596.00" x2="1325.00" y2="596.00" stroke="#333" stroke-width="4.00"/>
<line x1="1361.00" y1="563.00" x2="1409.00" y2="563.00" stroke="#333" stroke-width="4.00"/>
<line x1="1361.00" y1="651.00" x2="1409.00" y2="651.00" stroke="#333" stroke-width="4.00"/>
<line x1="1183.00" y1="624.00" x2="1262.00" y2="624.00" stroke="#000" stroke-width="2.60"/>
<path d="M1262,624 L1269,640" fill="none" stroke="#000" stroke-width="2.40"/>
<line x1="1185.00" y1="603.00" x2="1193.00" y2="603.00" stroke="#000" stroke-width="2.00"/>
<line x1="1193.00" y1="592.00" x2="1193.00" y2="624.00" stroke="#000" stroke-width="2.00"/>
<path d="M1190,638 Q1200,632 1210,638 M1250,638 Q1260,632 1270,638" fill="none" stroke="#000" stroke-width="3.00"/>
<line x1="658.00" y1="695.00" x2="658.00" y2="788.00" stroke="#555" stroke-width="1.60"/>
<line x1="1181.00" y1="679.00" x2="1181.00" y2="788.00" stroke="#555" stroke-width="1.60"/>
<line x1="700.00" y1="760.00" x2="851.00" y2="760.00" stroke="#333" stroke-width="1.80"/>
<line x1="1012.00" y1="760.00" x2="1140.00" y2="760.00" stroke="#333" stroke-width="1.80"/>
<polygon points="658.00,760.00 700.00,754.00 700.00,766.00" fill="#000"/>
<polygon points="1181.00,760.00 1140.00,766.00 1140.00,754.00" fill="#000"/>
<text transform="translate(0 773.00) scale(0.6234 1)" x="1390.71 1419.36 1448.02 1476.67 1533.98 1562.63 1591.29" y="0" font-size="33.43" font-family="Liberation Sans" font-weight="normal" fill="#222" text-anchor="middle" stroke="#222" stroke-width="0.50">1.61REF</text>
<line x1="1131.00" y1="403.40" x2="1091.00" y2="403.40" stroke="#222" stroke-width="1.80"/>
<line x1="1091.00" y1="403.40" x2="976.00" y2="521.00" stroke="#222" stroke-width="1.80"/>
<polygon points="958.70,534.00 979.85,508.00 988.15,518.00" fill="#000"/>
<text transform="translate(0 417.40) scale(0.6033 1)" x="1885.11 1914.14 1943.17 1972.19 2001.22 2030.25 2059.28 2088.31 2146.36 2175.39 2204.42 2233.45 2262.48 2291.51 2320.53" y="0" font-size="33.87" font-family="Liberation Sans" font-weight="normal" fill="#222" text-anchor="middle" stroke="#222" stroke-width="0.50">15/32-32UNEF-2A</text>
<text transform="translate(0 450.00) scale(0.5947 1)" x="1919.68 1948.34 1976.99 2005.65 2034.30 2062.96 2120.27 2148.92 2177.58" y="0" font-size="33.43" font-family="Liberation Sans" font-weight="normal" fill="#222" text-anchor="middle" stroke="#222" stroke-width="0.50">THREADREF</text>
<line x1="1268.00" y1="495.50" x2="1226.70" y2="495.50" stroke="#222" stroke-width="1.80"/>
<line x1="1226.70" y1="495.50" x2="1200.00" y2="521.00" stroke="#222" stroke-width="1.80"/>
<polygon points="1179.00,538.60 1203.13,510.41 1210.87,519.59" fill="#000"/>
<text transform="translate(0 508.00) scale(0.5866 1)" x="2176.78 2205.43 2234.09 2262.74 2291.40" y="0" font-size="33.43" font-family="Liberation Sans" font-weight="normal" fill="#222" text-anchor="middle" stroke="#222" stroke-width="0.50">STAKE</text>
<circle cx="289.50" cy="986.00" r="91.50" fill="none" stroke="#0a0a0a" stroke-width="21.00"/>
<path d="M373.89,990.22L388.38,990.95M372.62,1001.20L386.88,1003.81M369.93,1011.92L383.73,1016.37M365.85,1022.20L378.96,1028.41M360.48,1031.85L372.66,1039.72M353.88,1040.73L364.93,1050.12M346.19,1048.66L355.92,1059.41M337.53,1055.53L345.77,1067.46M328.04,1061.20L334.65,1074.10M317.89,1065.59L322.77,1079.24M307.26,1068.61L310.31,1082.79M296.33,1070.22L297.50,1084.68M285.28,1070.39L284.55,1084.88M274.30,1069.12L271.69,1083.38M263.58,1066.43L259.13,1080.23M253.30,1062.35L247.09,1075.46M243.65,1056.98L235.78,1069.16M234.77,1050.38L225.38,1061.43M226.84,1042.69L216.09,1052.42M219.97,1034.03L208.04,1042.27M214.30,1024.54L201.40,1031.15M209.91,1014.39L196.26,1019.27M206.89,1003.76L192.71,1006.81M205.28,992.83L190.82,994.00M205.11,981.78L190.62,981.05M206.38,970.80L192.12,968.19M209.07,960.08L195.27,955.63M213.15,949.80L200.04,943.59M218.52,940.15L206.34,932.28M225.12,931.27L214.07,921.88M232.81,923.34L223.08,912.59M241.47,916.47L233.23,904.54M250.96,910.80L244.35,897.90M261.11,906.41L256.23,892.76M271.74,903.39L268.69,889.21M282.67,901.78L281.50,887.32M293.72,901.61L294.45,887.12M304.70,902.88L307.31,888.62M315.42,905.57L319.87,891.77M325.70,909.65L331.91,896.54M335.35,915.02L343.22,902.84M344.23,921.62L353.62,910.57M352.16,929.31L362.91,919.58M359.03,937.97L370.96,929.73M364.70,947.46L377.60,940.85M369.09,957.61L382.74,952.73M372.11,968.24L386.29,965.19M373.72,979.17L388.18,978.00" fill="none" stroke="#fafafa" stroke-width="2.50" stroke-linecap="round"/>
<circle cx="289.50" cy="986.00" r="72.00" fill="none" stroke="#000" stroke-width="3.20"/>
<circle cx="289.60" cy="987.00" r="41.50" fill="none" stroke="#000" stroke-width="3.40"/>
<path d="M259.60,1016.00 A41.5,41.5 0 0 0 309.60,1024.00" fill="none" stroke="#000" stroke-width="6.00"/>
<path d="M255,966 L282,963 Q286,963 285,968 L277,1000 Q276,1004 272,1004 L256,1001 Q252,1000 253,996 Z" fill="#fff" stroke="#000" stroke-width="3.80"/>
<path d="M262,964 L284,962" fill="none" stroke="#000" stroke-width="6.00"/>
<path d="M256,996 L274,1002" fill="none" stroke="#000" stroke-width="5.00"/>
<path d="M298,963 Q306,956 313,960 L327,990 Q329,998 322,1000 L312,1002 Q307,1003 305,998 Z" fill="#fff" stroke="#000" stroke-width="3.20"/>
<path d="M303,962 Q311,960 314,968 L321,996" fill="none" stroke="#000" stroke-width="7.00"/>
<line x1="246.20" y1="805.60" x2="275.20" y2="805.60" stroke="#444" stroke-width="2.00"/>
<line x1="246.20" y1="805.60" x2="273.50" y2="921.00" stroke="#222" stroke-width="1.80"/>
<polygon points="279.30,945.60 264.18,909.44 275.82,906.56" fill="#000"/>
<text transform="translate(0 819.00) scale(0.6192 1)" x="472.32 502.22 532.12 562.02 591.92 621.82 681.62 711.52 741.43" y="0" font-size="34.88" font-family="Liberation Sans" font-weight="normal" fill="#222" text-anchor="middle" stroke="#222" stroke-width="0.50">Ø0.253REF</text>
<rect x="657.50" y="913.00" width="8.50" height="147.00" fill="#4a4a4a" stroke="#111" stroke-width="1.50" rx="0.00"/>
<path d="M689,885.5 L682,885.5 Q667,891.5 667,921.5 L667,1053.0 Q667,1083.0 682,1089.0 L689,1089.0 Z" fill="#0d0d0d" stroke="#000" stroke-width="1.50"/>
<rect x="671.00" y="891.70" width="13.00" height="3.60" fill="#f4f4f4" stroke="none" stroke-width="0.00" rx="0.00"/>
<rect x="671.00" y="906.12" width="13.00" height="3.60" fill="#f4f4f4" stroke="none" stroke-width="0.00" rx="0.00"/>
<rect x="668.50" y="920.55" width="15.50" height="3.60" fill="#f4f4f4" stroke="none" stroke-width="0.00" rx="0.00"/>
<rect x="668.50" y="934.97" width="15.50" height="3.60" fill="#f4f4f4" stroke="none" stroke-width="0.00" rx="0.00"/>
<rect x="668.50" y="949.39" width="15.50" height="3.60" fill="#f4f4f4" stroke="none" stroke-width="0.00" rx="0.00"/>
<rect x="668.50" y="963.82" width="15.50" height="3.60" fill="#f4f4f4" stroke="none" stroke-width="0.00" rx="0.00"/>
<rect x="668.50" y="978.24" width="15.50" height="3.60" fill="#f4f4f4" stroke="none" stroke-width="0.00" rx="0.00"/>
<rect x="668.50" y="992.66" width="15.50" height="3.60" fill="#f4f4f4" stroke="none" stroke-width="0.00" rx="0.00"/>
<rect x="668.50" y="1007.08" width="15.50" height="3.60" fill="#f4f4f4" stroke="none" stroke-width="0.00" rx="0.00"/>
<rect x="668.50" y="1021.51" width="15.50" height="3.60" fill="#f4f4f4" stroke="none" stroke-width="0.00" rx="0.00"/>
<rect x="668.50" y="1035.93" width="15.50" height="3.60" fill="#f4f4f4" stroke="none" stroke-width="0.00" rx="0.00"/>
<rect x="668.50" y="1050.35" width="15.50" height="3.60" fill="#f4f4f4" stroke="none" stroke-width="0.00" rx="0.00"/>
<rect x="671.00" y="1064.78" width="13.00" height="3.60" fill="#f4f4f4" stroke="none" stroke-width="0.00" rx="0.00"/>
<rect x="671.00" y="1079.20" width="13.00" height="3.60" fill="#f4f4f4" stroke="none" stroke-width="0.00" rx="0.00"/>
<rect x="689.00" y="905.50" width="7.00" height="162.50" fill="#fff" stroke="#000" stroke-width="1.60" rx="0.00"/>
<rect x="696.00" y="910.00" width="450.00" height="153.50" fill="#141414" stroke="none" stroke-width="0.00" rx="0.00"/>
<path d="M704.5,916.0V1057.5M714.4,916.0V1057.5M724.2,916.0V1057.5M734.1,916.0V1057.5M744.0,916.0V1057.5M753.9,916.0V1057.5M763.7,916.0V1057.5M773.6,916.0V1057.5M783.5,916.0V1057.5M793.3,916.0V1057.5M803.2,916.0V1057.5M813.1,916.0V1057.5M822.9,916.0V1057.5M832.8,916.0V1057.5M842.7,916.0V1057.5M852.6,916.0V1057.5M862.4,916.0V1057.5M872.3,916.0V1057.5M882.2,916.0V1057.5M892.0,916.0V1057.5M901.9,916.0V1057.5M911.8,916.0V1057.5M921.6,916.0V1057.5M931.5,916.0V1057.5M941.4,916.0V1057.5M951.3,916.0V1057.5M961.1,916.0V1057.5M971.0,916.0V1057.5M980.9,916.0V1057.5M990.7,916.0V1057.5M1000.6,916.0V1057.5M1010.5,916.0V1057.5M1020.3,916.0V1057.5M1030.2,916.0V1057.5M1040.1,916.0V1057.5M1049.9,916.0V1057.5M1059.8,916.0V1057.5M1069.7,916.0V1057.5M1079.6,916.0V1057.5M1089.4,916.0V1057.5M1099.3,916.0V1057.5M1109.2,916.0V1057.5M1119.0,916.0V1057.5M1128.9,916.0V1057.5M1138.8,916.0V1057.5" fill="none" stroke="#333" stroke-width="1.50"/>
<path d="M702.0,906.0h5.6v4h-5.6zM702.0,1063.5h5.6v4h-5.6zM711.9,906.0h5.6v4h-5.6zM711.9,1063.5h5.6v4h-5.6zM721.7,906.0h5.6v4h-5.6zM721.7,1063.5h5.6v4h-5.6zM731.6,906.0h5.6v4h-5.6zM731.6,1063.5h5.6v4h-5.6zM741.5,906.0h5.6v4h-5.6zM741.5,1063.5h5.6v4h-5.6zM751.4,906.0h5.6v4h-5.6zM751.4,1063.5h5.6v4h-5.6zM761.2,906.0h5.6v4h-5.6zM761.2,1063.5h5.6v4h-5.6zM771.1,906.0h5.6v4h-5.6zM771.1,1063.5h5.6v4h-5.6zM781.0,906.0h5.6v4h-5.6zM781.0,1063.5h5.6v4h-5.6zM790.8,906.0h5.6v4h-5.6zM790.8,1063.5h5.6v4h-5.6zM800.7,906.0h5.6v4h-5.6zM800.7,1063.5h5.6v4h-5.6zM810.6,906.0h5.6v4h-5.6zM810.6,1063.5h5.6v4h-5.6zM820.4,906.0h5.6v4h-5.6zM820.4,1063.5h5.6v4h-5.6zM830.3,906.0h5.6v4h-5.6zM830.3,1063.5h5.6v4h-5.6zM840.2,906.0h5.6v4h-5.6zM840.2,1063.5h5.6v4h-5.6zM850.1,906.0h5.6v4h-5.6zM850.1,1063.5h5.6v4h-5.6zM859.9,906.0h5.6v4h-5.6zM859.9,1063.5h5.6v4h-5.6zM869.8,906.0h5.6v4h-5.6zM869.8,1063.5h5.6v4h-5.6zM879.7,906.0h5.6v4h-5.6zM879.7,1063.5h5.6v4h-5.6zM889.5,906.0h5.6v4h-5.6zM889.5,1063.5h5.6v4h-5.6zM899.4,906.0h5.6v4h-5.6zM899.4,1063.5h5.6v4h-5.6zM909.3,906.0h5.6v4h-5.6zM909.3,1063.5h5.6v4h-5.6zM919.1,906.0h5.6v4h-5.6zM919.1,1063.5h5.6v4h-5.6zM929.0,906.0h5.6v4h-5.6zM929.0,1063.5h5.6v4h-5.6zM938.9,906.0h5.6v4h-5.6zM938.9,1063.5h5.6v4h-5.6zM948.8,906.0h5.6v4h-5.6zM948.8,1063.5h5.6v4h-5.6zM958.6,906.0h5.6v4h-5.6zM958.6,1063.5h5.6v4h-5.6zM968.5,906.0h5.6v4h-5.6zM968.5,1063.5h5.6v4h-5.6zM978.4,906.0h5.6v4h-5.6zM978.4,1063.5h5.6v4h-5.6zM988.2,906.0h5.6v4h-5.6zM988.2,1063.5h5.6v4h-5.6zM998.1,906.0h5.6v4h-5.6zM998.1,1063.5h5.6v4h-5.6zM1008.0,906.0h5.6v4h-5.6zM1008.0,1063.5h5.6v4h-5.6zM1017.8,906.0h5.6v4h-5.6zM1017.8,1063.5h5.6v4h-5.6zM1027.7,906.0h5.6v4h-5.6zM1027.7,1063.5h5.6v4h-5.6zM1037.6,906.0h5.6v4h-5.6zM1037.6,1063.5h5.6v4h-5.6zM1047.4,906.0h5.6v4h-5.6zM1047.4,1063.5h5.6v4h-5.6zM1057.3,906.0h5.6v4h-5.6zM1057.3,1063.5h5.6v4h-5.6zM1067.2,906.0h5.6v4h-5.6zM1067.2,1063.5h5.6v4h-5.6zM1077.1,906.0h5.6v4h-5.6zM1077.1,1063.5h5.6v4h-5.6zM1086.9,906.0h5.6v4h-5.6zM1086.9,1063.5h5.6v4h-5.6zM1096.8,906.0h5.6v4h-5.6zM1096.8,1063.5h5.6v4h-5.6zM1106.7,906.0h5.6v4h-5.6zM1106.7,1063.5h5.6v4h-5.6zM1116.5,906.0h5.6v4h-5.6zM1116.5,1063.5h5.6v4h-5.6zM1126.4,906.0h5.6v4h-5.6zM1126.4,1063.5h5.6v4h-5.6zM1136.3,906.0h5.6v4h-5.6zM1136.3,1063.5h5.6v4h-5.6z" fill="#111" stroke="none" stroke-width="0.00"/>
<path d="M1146.0,916.0 L1174.0,916.0 Q1183.0,916.0 1183.0,926.0 L1183.0,1048.0 Q1183.0,1058.0 1174.0,1058.0 L1146.0,1058.0" fill="#fff" stroke="#000" stroke-width="2.60"/>
<line x1="1171.00" y1="916.00" x2="1171.00" y2="1058.00" stroke="#000" stroke-width="2.00"/>
<line x1="697.00" y1="986.50" x2="1146.00" y2="986.50" stroke="#000" stroke-width="1.20"/>
<line x1="1148.00" y1="986.50" x2="1222.00" y2="986.50" stroke="#888" stroke-width="2.00"/>
<path d="M1183,959.5 L1258,959.5 Q1268,959.5 1268,970 L1268,990 Q1268,1000.5 1258,1000.5 L1183,1000.5" fill="none" stroke="#000" stroke-width="2.80"/>
<ellipse cx="1242.3" cy="979" rx="16.5" ry="9.5" fill="none" stroke="#000" stroke-width="3.2"/>
<text transform="translate(0 986.00) scale(0.7007 1)" x="1703.20" y="0" font-size="26.16" font-family="Liberation Sans" font-weight="normal" fill="#111" text-anchor="middle" stroke="#111" stroke-width="0.50">R</text>
<path d="M1171,1050.5 L1413,1050.5" fill="none" stroke="#000" stroke-width="3.00"/>
<path d="M1200,1046 L1413,1046" fill="none" stroke="#333" stroke-width="1.60" stroke-dasharray="8 5"/>
<path d="M1181,1050 L1191.5,1036 L1257.7,1036 L1290.9,1023.6 L1359.2,1023.6" fill="none" stroke="#000" stroke-width="2.80"/>
<path d="M1262,1046 L1295,1030" fill="none" stroke="#000" stroke-width="2.00"/>
<rect x="1193.00" y="1039.00" width="65.00" height="7.00" fill="#555" stroke="#000" stroke-width="1.50" rx="0.00"/>
<rect x="1295.00" y="988.40" width="30.00" height="35.00" fill="#fff" stroke="#000" stroke-width="2.60" rx="0.00"/>
<line x1="1290.00" y1="1024.00" x2="1359.00" y2="1024.00" stroke="#000" stroke-width="5.00"/>
<path d="M1359.2,1031 L1359.2,957.3 L1371.6,957.3 L1388.2,974 L1400.6,957.3 L1411,957.3 L1411,1040 Q1414,1044 1413,1050" fill="none" stroke="#000" stroke-width="2.80"/>
<path d="M1388.2,974 L1411,997.7" fill="none" stroke="#000" stroke-width="2.60"/>
<line x1="511.00" y1="885.50" x2="688.00" y2="885.50" stroke="#555" stroke-width="1.80"/>
<line x1="511.00" y1="1089.00" x2="688.00" y2="1089.00" stroke="#555" stroke-width="1.80"/>
<line x1="538.70" y1="927.00" x2="538.70" y2="970.00" stroke="#222" stroke-width="1.80"/>
<line x1="538.70" y1="1004.00" x2="538.70" y2="1048.00" stroke="#222" stroke-width="1.80"/>
<polygon points="538.70,885.50 546.20,927.00 531.20,927.00" fill="#000"/>
<polygon points="538.70,1089.00 531.20,1048.00 546.20,1048.00" fill="#000"/>
<text transform="translate(0 997.00) scale(0.6310 1)" x="714.15 744.05 773.95 803.85 833.75 863.65 923.45 953.35 983.26" y="0" font-size="34.88" font-family="Liberation Sans" font-weight="normal" fill="#222" text-anchor="middle" stroke="#222" stroke-width="0.50">Ø0.625REF</text>
<line x1="630.00" y1="986.70" x2="654.00" y2="986.70" stroke="#777" stroke-width="2.00"/>
<line x1="660.00" y1="1074.00" x2="660.00" y2="1184.50" stroke="#666" stroke-width="1.80"/>
<line x1="1411.00" y1="1063.00" x2="1411.00" y2="1183.00" stroke="#666" stroke-width="1.80"/>
<line x1="702.00" y1="1158.00" x2="914.20" y2="1158.00" stroke="#888" stroke-width="2.20"/>
<line x1="1092.00" y1="1158.00" x2="1369.50" y2="1158.00" stroke="#888" stroke-width="2.20"/>
<polygon points="660.00,1158.00 702.00,1151.00 702.00,1165.00" fill="#000"/>
<polygon points="1411.00,1158.00 1369.50,1165.00 1369.50,1151.00" fill="#000"/>
<text transform="translate(0 1169.70) scale(0.5765 1)" x="1617.70 1647.73 1677.75 1707.78 1737.80 1797.85 1827.88 1857.90" y="0" font-size="35.03" font-family="Liberation Sans" font-weight="normal" fill="#222" text-anchor="middle" stroke="#222" stroke-width="0.50">2.319REF</text>
<line x1="1485" y1="987.3" x2="1748" y2="987.3" stroke="#888" stroke-width="3" stroke-dasharray="30 8 6 8"/>
<line x1="1621.30" y1="864.00" x2="1621.30" y2="1110.00" stroke="#333" stroke-width="1.60"/>
<circle cx="1621.30" cy="987.30" r="101.80" fill="none" stroke="#000" stroke-width="3.20"/>
<circle cx="1621.30" cy="987.30" r="73.00" fill="none" stroke="#000" stroke-width="9.50"/>
<path d="M1566.3,1037.3 A75,75 0 0 0 1671.3,1042.3" fill="none" stroke="#000" stroke-width="12.00"/>
<circle cx="1621.30" cy="987.30" r="57.30" fill="none" stroke="#000" stroke-width="3.00"/>
<circle cx="1621.30" cy="987.30" r="42.30" fill="none" stroke="#000" stroke-width="3.20"/>
<circle cx="1621.30" cy="987.30" r="1.60" fill="#000" stroke="none" stroke-width="0.00"/>
<rect x="1574.00" y="956.00" width="6.00" height="76.00" fill="#fff" stroke="#000" stroke-width="1.80" rx="0.00"/>
<rect x="1661.00" y="956.00" width="11.00" height="76.00" fill="#666" stroke="#000" stroke-width="1.80" rx="0.00"/>
<path d="M1581.3,943.3 A62,62 0 0 1 1661.3,943.3" fill="none" stroke="#000" stroke-width="2.50"/>
<path d="M1592,998 Q1588,990 1592,980 L1601,963 Q1605,958 1610,961 Q1613,964 1611,970 L1602,998 Q1600,1002 1596,1002 Z" fill="#fff" stroke="#000" stroke-width="5.50"/>
<path d="M1629,965 Q1633,959 1640,962 Q1650,970 1654,992 L1648,996 Q1644,976 1637,970 L1635,985 Z" fill="#fff" stroke="#000" stroke-width="4.50"/>
<path d="M1579,1032 Q1582,1044 1600,1044 M1644,1044 Q1662,1044 1664,1032" fill="none" stroke="#000" stroke-width="3.00"/>
<path d="M1636,1040 L1636,1006 Q1640,996 1656,996 L1662,996" fill="none" stroke="#000" stroke-width="3.20"/>
<path d="M1580,1030 Q1592,1046 1621,1046 Q1645,1046 1662,1032" fill="none" stroke="#000" stroke-width="2.50"/>
<line x1="1478.60" y1="805.30" x2="1519.00" y2="805.30" stroke="#333" stroke-width="1.80"/>
<line x1="1519.00" y1="805.30" x2="1572.00" y2="925.00" stroke="#222" stroke-width="1.80"/>
<path d="M1572,925 L1584,951" fill="none" stroke="#000" stroke-width="5.00"/>
<line x1="1685.50" y1="813.70" x2="1727.60" y2="813.70" stroke="#333" stroke-width="1.80"/>
<line x1="1685.50" y1="813.70" x2="1659.00" y2="917.00" stroke="#222" stroke-width="1.80"/>
<path d="M1659,917 L1652.5,951" fill="none" stroke="#000" stroke-width="5.00"/>
<line x1="1672.00" y1="1140.00" x2="1712.40" y2="1140.00" stroke="#333" stroke-width="1.80"/>
<line x1="1672.00" y1="1140.00" x2="1653.00" y2="1082.00" stroke="#222" stroke-width="1.80"/>
<path d="M1653,1082 L1642,1055" fill="none" stroke="#000" stroke-width="6.00"/>
<text transform="translate(0 818.80) scale(0.6435 1)" x="2014.22 2041.38 2068.54 2095.70 2150.02 2177.18 2204.34 2231.50 2258.66 2285.82" y="0" font-size="31.69" font-family="Liberation Sans" font-weight="normal" fill="#222" text-anchor="middle" stroke="#222" stroke-width="0.50">RINGSPRING</text>
<text transform="translate(0 851.00) scale(0.6273 1)" x="2207.96 2235.37 2262.78 2290.19 2317.60 2345.00" y="0" font-size="31.98" font-family="Liberation Sans" font-weight="normal" fill="#222" text-anchor="middle" stroke="#222" stroke-width="0.50">(LONG)</text>
<text transform="translate(0 825.50) scale(0.5933 1)" x="2924.31 2953.59 2982.87 3041.42 3070.70 3099.98 3129.26 3158.53 3187.81" y="0" font-size="34.16" font-family="Liberation Sans" font-weight="normal" fill="#222" text-anchor="middle" stroke="#222" stroke-width="0.50">TIPSPRING</text>
<text transform="translate(0 857.50) scale(0.6269 1)" x="2767.55 2794.83 2822.12 2849.40 2876.68 2903.97 2931.25" y="0" font-size="31.83" font-family="Liberation Sans" font-weight="normal" fill="#222" text-anchor="middle" stroke="#222" stroke-width="0.50">(SHORT)</text>
<text transform="translate(0 1152.00) scale(0.5732 1)" x="3000.44 3030.34 3060.24 3090.14 3120.04 3149.94" y="0" font-size="34.88" font-family="Liberation Sans" font-weight="normal" fill="#222" text-anchor="middle" stroke="#222" stroke-width="0.50">SLEEVE</text>
<text transform="translate(0 1184.00) scale(0.5625 1)" x="3060.91 3090.81 3120.71 3150.61 3180.51 3210.41 3240.32 3270.22" y="0" font-size="34.88" font-family="Liberation Sans" font-weight="normal" fill="#222" text-anchor="middle" stroke="#222" stroke-width="0.50">TERMINAL</text>
<text transform="translate(0 924.00) scale(0.5622 1)" x="3557.55 3587.45 3617.35 3647.25 3677.15" y="0" font-size="34.88" font-family="Liberation Sans" font-weight="normal" fill="#222" text-anchor="middle" stroke="#222" stroke-width="0.50">SCALE</text>
<text transform="translate(0 924.00) scale(0.6832 1)" x="3096.74 3126.64 3156.54" y="0" font-size="34.88" font-family="Liberation Sans" font-weight="normal" fill="#222" text-anchor="middle" stroke="#222" stroke-width="0.50">1:1</text>
<path d="M1905.65,614.48 L1901.43,618.39 L1896.94,621.97 L1892.20,625.18 L1887.26,628.01 L1882.15,630.42 L1876.92,632.41 L1871.60,633.95 L1866.22,635.04 L1860.85,635.67 L1855.50,635.83 L1850.24,635.52 L1845.08,634.74 L1840.08,633.50 L1835.28,631.81 L1830.70,629.68 L1826.39,627.13 L1822.37,624.17 L1818.68,620.84 L1815.34,617.15 L1812.39,613.13 L1809.84,608.82 L1807.71,604.24 L1806.02,599.43 L1804.78,594.43 L1804.00,589.28 L1803.69,584.01 L1803.85,578.67 L1804.47,573.29 L1805.56,567.92 L1807.11,562.60 L1809.10,557.37 L1811.51,552.26 L1814.34,547.32 L1817.55,542.58 L1821.13,538.09 L1825.04,533.87 L1829.26,529.95 L1833.76,526.37 L1838.49,523.16 L1843.44,520.33 L1848.54,517.92 L1853.78,515.93 L1859.10,514.39 L1864.47,513.30 L1869.85,512.67 L1875.19,512.51 L1880.46,512.82 L1885.61,513.60 L1890.61,514.84 L1895.42,516.53 L1899.99,518.66 L1904.31,521.21 L1908.33,524.17 L1912.02,527.50 L1915.35,531.19 L1918.31,535.21 L1920.86,539.52 L1922.99,544.10 L1924.68,548.91 L1925.92,553.91 L1926.69,559.06 L1927.01,564.33 L1926.85,569.67 L1926.22,575.05 L1925.13,580.42 L1923.59,585.74 L1921.60,590.98 L1919.18,596.08 L1916.36,601.02 L1913.14,605.76 L1909.57,610.25 Z" fill="#fff" stroke="#000" stroke-width="4.20"/>
<path d="M1831.12,613.49 L1829.01,611.09 L1827.19,608.43 L1825.68,605.53 L1824.49,602.42 L1823.63,599.10 L1823.11,595.62 L1822.93,591.99 L1823.09,588.25 L1823.59,584.42 L1824.43,580.53 L1825.60,576.61 L1827.10,572.69 L1828.90,568.80 L1831.00,564.97 L1833.38,561.23 L1836.02,557.61 L1838.91,554.14 L1842.01,550.84 L1845.32,547.73 L1848.79,544.84 L1852.41,542.20 L1856.15,539.82 L1859.98,537.72 L1863.87,535.92 L1867.78,534.43 L1871.70,533.26 L1875.59,532.42 L1879.42,531.91 L1883.17,531.75 L1886.80,531.93 L1890.28,532.45 L1893.59,533.31 L1896.71,534.50 L1899.61,536.01 L1902.27,537.83 L1904.66,539.95 L2052.02,687.31 L2054.14,689.70 L2055.96,692.36 L2057.47,695.26 L2058.66,698.38 L2059.52,701.69 L2060.04,705.17 L2060.22,708.80 L2060.06,712.55 L2059.55,716.38 L2058.71,720.27 L2057.54,724.19 L2056.05,728.11 L2054.25,731.99 L2052.15,735.82 L2049.77,739.56 L2047.13,743.18 L2044.24,746.65 L2041.13,749.96 L2037.83,753.06 L2034.36,755.95 L2030.74,758.59 L2027.00,760.97 L2023.17,763.07 L2019.28,764.87 L2015.36,766.37 L2011.44,767.54 L2007.55,768.38 L2003.72,768.88 L1999.98,769.04 L1996.35,768.86 L1992.87,768.34 L1989.55,767.48 L1986.44,766.29 L1983.54,764.78 L1980.88,762.96 L1978.48,760.85 Z" fill="#050505" stroke="#000" stroke-width="1"/>
<path d="M2042.83,753.07 L2039.77,755.92 L2036.51,758.53 L2033.08,760.89 L2029.52,762.97 L2025.84,764.76 L2022.07,766.25 L2018.25,767.42 L2014.40,768.27 L2010.55,768.78 L2006.73,768.97 L2002.97,768.81 L1999.30,768.32 L1995.74,767.50 L1992.33,766.35 L1989.08,764.89 L1986.03,763.12 L1983.20,761.06 L1980.61,758.73 L1978.27,756.13 L1976.21,753.30 L1974.44,750.25 L1972.98,747.00 L1971.83,743.59 L1971.01,740.04 L1970.52,736.36 L1970.37,732.60 L1970.55,728.78 L1971.06,724.93 L1971.91,721.08 L1973.08,717.26 L1974.57,713.49 L1976.36,709.81 L1978.44,706.25 L1980.80,702.82 L1983.41,699.57 L1986.26,696.50 L1989.33,693.65 L1992.59,691.04 L1996.01,688.68 L1999.58,686.60 L2003.26,684.81 L2007.02,683.32 L2010.85,682.15 L2014.70,681.30 L2018.55,680.78 L2022.37,680.60 L2026.13,680.76 L2029.80,681.25 L2033.35,682.07 L2036.77,683.22 L2040.01,684.68 L2043.06,686.45 L2045.89,688.51 L2048.49,690.84 L2050.82,693.44 L2052.88,696.27 L2054.65,699.32 L2056.12,702.56 L2057.26,705.98 L2058.08,709.53 L2058.57,713.20 L2058.73,716.96 L2058.55,720.78 L2058.03,724.63 L2057.18,728.49 L2056.01,732.31 L2054.53,736.07 L2052.73,739.75 L2050.65,743.32 L2048.30,746.75 L2045.68,750.00 Z" fill="none" stroke="#fff" stroke-width="3.40"/>
<path d="M2039.30,749.53 L2036.61,752.03 L2033.76,754.31 L2030.77,756.38 L2027.65,758.20 L2024.43,759.77 L2021.13,761.07 L2017.79,762.09 L2014.42,762.83 L2011.05,763.28 L2007.71,763.44 L2004.41,763.31 L2001.20,762.88 L1998.09,762.16 L1995.10,761.16 L1992.27,759.88 L1989.60,758.33 L1987.12,756.53 L1984.85,754.48 L1982.80,752.21 L1981.00,749.73 L1979.46,747.07 L1978.18,744.23 L1977.17,741.24 L1976.45,738.13 L1976.02,734.92 L1975.89,731.63 L1976.05,728.28 L1976.50,724.92 L1977.24,721.55 L1978.26,718.20 L1979.57,714.91 L1981.13,711.69 L1982.96,708.57 L1985.02,705.57 L1987.30,702.72 L1989.80,700.04 L1992.48,697.54 L1995.33,695.25 L1998.33,693.19 L2001.45,691.37 L2004.67,689.80 L2007.96,688.50 L2011.31,687.48 L2014.68,686.74 L2018.05,686.28 L2021.39,686.13 L2024.68,686.26 L2027.89,686.69 L2031.00,687.41 L2033.99,688.41 L2036.83,689.69 L2039.50,691.24 L2041.98,693.04 L2044.25,695.09 L2046.29,697.36 L2048.09,699.83 L2049.64,702.50 L2050.92,705.34 L2051.92,708.33 L2052.64,711.44 L2053.07,714.65 L2053.21,717.94 L2053.05,721.28 L2052.60,724.65 L2051.85,728.02 L2050.83,731.37 L2049.53,734.66 L2047.96,737.88 L2046.14,741.00 L2044.08,744.00 L2041.79,746.85 Z" fill="none" stroke="#fff" stroke-width="2.60"/>
<path d="M2035.05,745.29 L2032.82,747.37 L2030.44,749.28 L2027.95,751.00 L2025.35,752.52 L2022.67,753.83 L2019.93,754.92 L2017.15,755.78 L2014.35,756.40 L2011.55,756.78 L2008.77,756.92 L2006.04,756.82 L2003.37,756.47 L2000.78,755.88 L1998.30,755.05 L1995.95,754.00 L1993.74,752.72 L1991.68,751.23 L1989.80,749.53 L1988.11,747.65 L1986.61,745.60 L1985.33,743.38 L1984.28,741.03 L1983.45,738.55 L1982.86,735.96 L1982.51,733.30 L1982.41,730.56 L1982.55,727.78 L1982.93,724.98 L1983.55,722.18 L1984.41,719.40 L1985.50,716.66 L1986.81,713.98 L1988.33,711.38 L1990.06,708.89 L1991.96,706.51 L1994.04,704.28 L1996.28,702.20 L1998.65,700.29 L2001.15,698.57 L2003.74,697.05 L2006.42,695.74 L2009.16,694.65 L2011.94,693.79 L2014.75,693.17 L2017.55,692.78 L2020.32,692.64 L2023.06,692.75 L2025.73,693.10 L2028.31,693.69 L2030.79,694.51 L2033.15,695.57 L2035.36,696.85 L2037.41,698.34 L2039.30,700.04 L2040.99,701.92 L2042.48,703.97 L2043.76,706.19 L2044.82,708.54 L2045.64,711.02 L2046.23,713.60 L2046.58,716.27 L2046.69,719.01 L2046.55,721.78 L2046.16,724.58 L2045.54,727.39 L2044.68,730.17 L2043.59,732.91 L2042.28,735.59 L2040.76,738.19 L2039.04,740.68 L2037.13,743.06 Z" fill="none" stroke="#ddd" stroke-width="2.00"/>
<path d="M2030.10,740.34 L2028.38,741.95 L2026.55,743.42 L2024.63,744.75 L2022.64,745.93 L2020.58,746.95 L2018.47,747.80 L2016.34,748.48 L2014.19,748.97 L2012.05,749.28 L2009.92,749.41 L2007.83,749.35 L2005.79,749.10 L2003.82,748.66 L2001.93,748.05 L2000.13,747.25 L1998.45,746.29 L1996.88,745.16 L1995.46,743.88 L1994.17,742.45 L1993.04,740.88 L1992.08,739.20 L1991.29,737.40 L1990.67,735.51 L1990.23,733.54 L1989.99,731.50 L1989.92,729.41 L1990.05,727.28 L1990.36,725.14 L1990.85,722.99 L1991.53,720.86 L1992.38,718.75 L1993.40,716.70 L1994.58,714.70 L1995.91,712.78 L1997.39,710.95 L1998.99,709.23 L2000.71,707.62 L2002.54,706.15 L2004.46,704.82 L2006.46,703.64 L2008.52,702.62 L2010.62,701.77 L2012.75,701.09 L2014.90,700.60 L2017.05,700.28 L2019.17,700.16 L2021.26,700.22 L2023.30,700.47 L2025.28,700.91 L2027.17,701.52 L2028.96,702.32 L2030.65,703.28 L2032.21,704.41 L2033.64,705.69 L2034.92,707.12 L2036.05,708.68 L2037.01,710.37 L2037.81,712.16 L2038.42,714.06 L2038.86,716.03 L2039.11,718.07 L2039.17,720.16 L2039.05,722.28 L2038.74,724.43 L2038.24,726.58 L2037.57,728.71 L2036.71,730.81 L2035.70,732.87 L2034.51,734.87 L2033.18,736.79 L2031.71,738.62 Z" fill="none" stroke="#bbb" stroke-width="1.60"/>
<path d="M1994,714 Q2009,720 2025,736" fill="none" stroke="#fff" stroke-width="5.00"/>
<path d="M1996,729 L2004,744" fill="none" stroke="#fff" stroke-width="4.00"/>
<path d="M2023,702 Q2035,710 2037,724" fill="none" stroke="#fff" stroke-width="3.00"/>
<path d="M2006,701 L2013,710" fill="none" stroke="#fff" stroke-width="3.00"/>
<path d="M1843,583 L1865,563 M1862,633 L1887,611" fill="none" stroke="#333" stroke-width="1.00"/>
<path d="M2006,767 L2026,787 L2026,798 L2059,831 Q2068,838 2080,837 L2087,834 Q2101,826 2112,813 Q2118,806 2116,795 L2107,770 L2098,773" fill="none" stroke="#000" stroke-width="4.00"/>
<path d="M2066,800 Q2058,790 2061,772 Q2064,758 2076,754 Q2086,756 2094,771 L2098,794 Q2090,806 2081,811 Z" fill="none" stroke="#000" stroke-width="3.40"/>
<path d="M2069,777 Q2070,767 2078,764 Q2088,771 2091,783 L2089,795 Q2084,802 2079,804 Q2071,797 2069,777 Z" fill="none" stroke="#000" stroke-width="4.00"/>
<path d="M2042,754 L2060,768" fill="none" stroke="#000" stroke-width="2.50"/>
<path d="M2039,781 L2055,812" fill="none" stroke="#000" stroke-width="5.50"/>
<path d="M2049,805 L2062,824" fill="none" stroke="#000" stroke-width="3.00"/>
<text transform="translate(0 1230.40) scale(0.6468 1)" x="254.91 289.67 324.43 359.19 393.95 428.71 463.46 498.22 532.98 567.74" y="0" font-size="40.55" font-family="Liberation Sans" font-weight="normal" fill="#1e1e1e" text-anchor="middle" stroke="#1e1e1e" stroke-width="0.50">MATERIALS:</text>
<line x1="157.00" y1="1233.50" x2="371.00" y2="1233.50" stroke="#333" stroke-width="2.20"/>
<text transform="translate(0 1297.10) scale(0.5615 1)" x="288.62 319.52 350.41 381.31 1091.94 1153.74 1184.63 1215.53 1246.43 1277.32 1308.22 1370.02 1400.91 1431.81 1462.71 1493.60 1524.50 1586.29 1617.19 1648.09 1678.99 1709.88 1740.78" y="0" font-size="36.05" font-family="Liberation Sans" font-weight="normal" fill="#1e1e1e" text-anchor="middle" stroke="#1e1e1e" stroke-width="0.50">BODY-BRASS,NICKELPLATED</text>
<text transform="translate(0 1329.50) scale(0.5615 1)" x="288.62 319.52 350.41 412.21 443.10 474.00 535.80 566.69 597.59 628.49 690.28 721.18 752.08 782.97 813.87 844.77 875.66 1091.94 1153.74 1184.63 1215.53 1246.43 1277.32 1308.22 1370.02 1400.91 1431.81 1462.71 1493.60 1524.50" y="0" font-size="36.05" font-family="Liberation Sans" font-weight="normal" fill="#1e1e1e" text-anchor="middle" stroke="#1e1e1e" stroke-width="0.50">TIPANDRINGSPRINGS-NICKELSILVER</text>
<text transform="translate(0 1362.40) scale(0.5615 1)" x="288.62 319.52 350.41 381.31 412.21 474.00 504.90 535.80 566.69 597.59 628.49 659.38 690.28 1091.94 1153.74 1184.63 1215.53 1246.43 1277.32 1308.22 1370.02 1400.91 1431.81 1493.60 1524.50 1555.40 1586.29 1617.19 1648.09" y="0" font-size="36.05" font-family="Liberation Sans" font-weight="normal" fill="#1e1e1e" text-anchor="middle" stroke="#1e1e1e" stroke-width="0.50">CLAMPTERMINAL-STEEL,TINPLATED</text>
<text transform="translate(0 1393.80) scale(0.5615 1)" x="288.62 319.52 350.41 381.31 412.21 443.10 504.90 535.80 566.69 597.59 1091.94 1153.74 1184.63 1215.53 1246.43 1277.32 1308.22 1339.12 1370.02 1431.81 1462.71 1493.60 1524.50 1555.40 1586.29" y="0" font-size="36.05" font-family="Liberation Sans" font-weight="normal" fill="#1e1e1e" text-anchor="middle" stroke="#1e1e1e" stroke-width="0.50">GROUNDCLIP-PHOSPHORBRONZE</text>
<text transform="translate(0 1425.40) scale(0.5615 1)" x="288.62 319.52 350.41 381.31 412.21 443.10 474.00 504.90 535.80 566.69 628.49 659.38 690.28 721.18 752.08 782.97 1091.94 1153.74 1184.63 1215.53 1246.43 1277.32" y="0" font-size="36.05" font-family="Liberation Sans" font-weight="normal" fill="#1e1e1e" text-anchor="middle" stroke="#1e1e1e" stroke-width="0.50">INSULATINGINSERT-NYLON</text>
<text transform="translate(0 1459.20) scale(0.5615 1)" x="288.62 319.52 350.41 381.31 412.21 443.10 1091.94 1153.74 1184.63 1215.53 1246.43 1277.32 1308.22 1339.12 1370.02 1400.91 1462.71 1493.60 1524.50 1555.40 1586.29 1617.19 1648.09 1678.99" y="0" font-size="36.05" font-family="Liberation Sans" font-weight="normal" fill="#1e1e1e" text-anchor="middle" stroke="#1e1e1e" stroke-width="0.50">WASHER-PAPERBASEBAKELITE</text>
<text transform="translate(0 1490.80) scale(0.5615 1)" x="288.62 319.52 350.41 381.31 412.21 443.10 474.00 504.90 535.80 597.59 628.49 659.38 690.28 721.18 752.08 813.87 875.66 906.56 937.46 968.35 999.25 1030.15 1091.94 1153.74 1184.63 1215.53 1246.43 1277.32 1308.22 1370.02 1400.91 1431.81 1462.71 1493.60 1524.50 1586.29 1617.19 1648.09 1678.99 1709.88 1740.78" y="0" font-size="36.05" font-family="Liberation Sans" font-weight="normal" fill="#1e1e1e" text-anchor="middle" stroke="#1e1e1e" stroke-width="0.50">HARDWARE,HEXNUT&amp;WASHER-BRASS,NICKELPLATED</text>
<text transform="translate(0 1339.00) scale(0.6263 1)" x="1955.16 1984.56 2013.97 2043.37 2072.77" y="0" font-size="34.30" font-family="Liberation Sans" font-weight="normal" fill="#1e1e1e" text-anchor="middle" stroke="#1e1e1e" stroke-width="0.50">NOTE:</text>
<line x1="1218.00" y1="1341.00" x2="1300.00" y2="1341.00" stroke="#333" stroke-width="2.20"/>
<text transform="translate(0 1403.00) scale(0.6040 1)" x="2026.37 2055.02 2112.33 2140.99 2169.64 2198.30 2226.95 2255.61 2284.26 2341.57 2370.22 2398.88 2427.53 2484.84 2513.50 2542.15 2570.81 2599.46 2628.11 2656.77 2685.42 2742.73 2771.39 2800.04 2828.70 2857.35 2886.00 2914.66 2943.31 2971.97 3000.62 3029.28 3057.93" y="0" font-size="33.43" font-family="Liberation Sans" font-weight="normal" fill="#1e1e1e" text-anchor="middle" stroke="#1e1e1e" stroke-width="0.50">1.SHIPPEDWITHHARDWAREUNASSEMBLED.</text>
<rect x="1828.00" y="1477.60" width="431.70" height="48.00" fill="none" stroke="#333" stroke-width="2.40" rx="24.00"/>
<text transform="translate(0 1516.00) scale(0.6106 1)" x="3044.17 3084.54 3124.91 3165.28 3205.65 3246.02 3286.39 3326.76 3407.49 3447.86 3488.23 3528.60 3568.97 3609.34 3649.71" y="0" font-size="41.72" font-family="Liberation Sans" font-weight="normal" fill="#2a2a2a" text-anchor="middle" stroke="#2a2a2a" stroke-width="0.30">CUSTOMERDRAWING</text>
<text x="684" y="2080" font-family="Liberation Sans" font-weight="bold" font-size="44" fill="#111" textLength="425" lengthAdjust="spacingAndGlyphs">Pro/Engineer CAD File</text>
<rect x="1212.00" y="2040.00" width="78.30" height="50.30" fill="#111" stroke="none" stroke-width="0.00" rx="4.00"/>
<ellipse cx="1251" cy="2065.5" rx="32" ry="21" fill="#fff"/>
<text transform="translate(0 2076.60) scale(0.6680 1)" x="1872.86" y="0" font-size="29.94" font-family="Liberation Sans" font-weight="normal" fill="#222" text-anchor="middle" stroke="#222" stroke-width="0.50">A</text>
<text x="0" y="0" transform="translate(1772 1858) skewX(-6)" font-family="Liberation Sans" font-weight="bold" font-size="79" textLength="488" lengthAdjust="spacingAndGlyphs" fill="#111" stroke="#111" stroke-width="8.5" stroke-linejoin="round">Switchcraft</text>
<text x="0" y="0" transform="translate(1772 1858) skewX(-6)" font-family="Liberation Sans" font-weight="bold" font-size="79" textLength="488" lengthAdjust="spacingAndGlyphs" fill="#fff" stroke="#fff" stroke-width="2.2" stroke-linejoin="round">Switchcraft</text>
<circle cx="2277.00" cy="1803.50" r="8.50" fill="#222" stroke="none" stroke-width="0.00"/>
<text transform="translate(0 1808.00) scale(0.8919 1)" x="2553.11" y="0" font-size="13.08" font-family="Liberation Sans" font-weight="normal" fill="#fff" text-anchor="middle" stroke="#fff" stroke-width="0.50">R</text>
<g transform="translate(0 2206) scale(1 0.88) translate(0 -2206)"><path d="M942.1,2193.0 C941.1,2189.8 939.8,2177.8 935.9,2173.6 C932.0,2169.5 924.5,2166.9 918.8,2168.2 C913.1,2169.5 906.0,2175.1 901.7,2181.4 C897.5,2187.7 894.0,2197.7 893.2,2206.2 C892.4,2214.8 893.3,2226.0 897.1,2232.6 C900.8,2239.2 909.2,2244.7 915.7,2245.8 C922.2,2247.0 930.7,2243.4 935.9,2239.6 C941.1,2235.9 944.6,2227.3 946.8,2223.3 C949.0,2219.3 948.7,2216.9 949.1,2215.6" fill="none" stroke="#acacac" stroke-width="14.5" stroke-linecap="round" stroke-linejoin="round" vector-effect="non-scaling-stroke"/><path d="M926.6,2215.9 L953.0,2215.9" fill="none" stroke="#acacac" stroke-width="7.0" stroke-linecap="round" stroke-linejoin="round" vector-effect="non-scaling-stroke"/><path d="M964.6,2196.1 C964.0,2199.6 961.9,2210.5 960.7,2217.1 C959.6,2223.7 956.9,2231.0 957.6,2235.7 C958.4,2240.5 961.8,2244.5 965.4,2245.8 C969.0,2247.1 975.0,2246.5 979.4,2243.5 C983.8,2240.5 989.7,2230.6 991.8,2228.0" fill="none" stroke="#acacac" stroke-width="14.5" stroke-linecap="round" stroke-linejoin="round" vector-effect="non-scaling-stroke"/><path d="M998.8,2196.1 C998.0,2200.2 995.3,2212.6 994.1,2220.2 C993.0,2227.9 991.2,2237.6 991.8,2242.0 C992.4,2246.4 995.4,2246.4 998.0,2246.6 C1000.6,2246.9 1005.8,2244.0 1007.3,2243.5" fill="none" stroke="#acacac" stroke-width="14.5" stroke-linecap="round" stroke-linejoin="round" vector-effect="non-scaling-stroke"/><path d="M1023.6,2196.1 C1022.9,2200.2 1020.1,2213.0 1019.0,2220.2 C1017.8,2227.5 1015.9,2235.2 1016.6,2239.6 C1017.4,2244.0 1020.8,2246.2 1023.6,2246.6 C1026.5,2247.0 1032.0,2242.7 1033.7,2242.0" fill="none" stroke="#acacac" stroke-width="14.5" stroke-linecap="round" stroke-linejoin="round" vector-effect="non-scaling-stroke"/><path d="M1048.5,2179.8 C1047.6,2185.0 1044.5,2201.3 1043.0,2210.9 C1041.6,2220.5 1039.2,2231.3 1039.9,2237.3 C1040.7,2243.3 1044.3,2245.8 1047.7,2246.6 C1051.1,2247.4 1058.1,2242.7 1060.1,2242.0" fill="none" stroke="#acacac" stroke-width="14.5" stroke-linecap="round" stroke-linejoin="round" vector-effect="non-scaling-stroke"/><path d="M1033.0,2196.1 L1064.8,2196.1" fill="none" stroke="#acacac" stroke-width="7.0" stroke-linecap="round" stroke-linejoin="round" vector-effect="non-scaling-stroke"/><path d="M1098.9,2201.6 C1096.1,2200.8 1087.3,2195.1 1081.9,2196.9 C1076.4,2198.7 1069.3,2206.0 1066.3,2212.5 C1063.4,2218.9 1062.7,2230.2 1064.0,2235.7 C1065.3,2241.3 1070.1,2245.6 1074.1,2245.8 C1078.1,2246.1 1083.7,2242.6 1088.1,2237.3 C1092.5,2232.0 1098.4,2217.9 1100.5,2214.0" fill="none" stroke="#acacac" stroke-width="14.5" stroke-linecap="round" stroke-linejoin="round" vector-effect="non-scaling-stroke"/><path d="M1106.7,2196.1 C1105.9,2200.2 1103.1,2212.6 1102.0,2220.2 C1101.0,2227.9 1099.5,2237.4 1100.5,2242.0 C1101.5,2246.5 1105.9,2246.9 1108.3,2247.4 C1110.6,2247.9 1113.4,2245.5 1114.5,2245.1" fill="none" stroke="#acacac" stroke-width="14.5" stroke-linecap="round" stroke-linejoin="round" vector-effect="non-scaling-stroke"/><path d="M1131.6,2196.1 C1131.0,2200.2 1129.4,2211.9 1128.4,2220.2 C1127.5,2228.5 1126.5,2241.6 1126.1,2245.8" fill="none" stroke="#acacac" stroke-width="15.5" stroke-linecap="round" stroke-linejoin="round" vector-effect="non-scaling-stroke"/><path d="M1130.0,2210.9 C1131.8,2209.0 1137.0,2201.6 1140.9,2199.3 C1144.8,2196.9 1150.4,2196.3 1153.3,2196.9 C1156.1,2197.6 1157.2,2202.1 1158.0,2203.1" fill="none" stroke="#acacac" stroke-width="8.0" stroke-linecap="round" stroke-linejoin="round" vector-effect="non-scaling-stroke"/><path d="M1197.2,2179.8 C1196.5,2185.5 1194.8,2203.0 1193.3,2214.0 C1191.7,2225.0 1188.8,2240.5 1187.9,2245.8" fill="none" stroke="#acacac" stroke-width="16.0" stroke-linecap="round" stroke-linejoin="round" vector-effect="non-scaling-stroke"/><path d="M1177.0,2193.0 C1177.6,2190.6 1176.9,2182.3 1180.9,2178.3 C1184.9,2174.3 1194.1,2170.3 1201.1,2169.0 C1208.0,2167.7 1216.8,2167.7 1222.8,2170.5 C1228.7,2173.4 1235.2,2180.4 1236.8,2186.1 C1238.3,2191.7 1235.5,2200.2 1232.1,2204.7 C1228.7,2209.2 1221.9,2211.7 1216.6,2213.2 C1211.3,2214.8 1203.0,2213.9 1200.3,2214.0" fill="none" stroke="#acacac" stroke-width="14.5" stroke-linecap="round" stroke-linejoin="round" vector-effect="non-scaling-stroke"/><path d="M1208.8,2214.8 C1209.9,2217.0 1213.0,2223.7 1215.0,2228.0 C1217.1,2232.3 1217.9,2237.7 1221.2,2240.4 C1224.6,2243.1 1231.6,2244.0 1235.2,2244.3 C1238.8,2244.5 1241.7,2242.3 1243.0,2242.0" fill="none" stroke="#acacac" stroke-width="14.5" stroke-linecap="round" stroke-linejoin="round" vector-effect="non-scaling-stroke"/><path d="M1250.7,2219.4 C1253.9,2218.3 1265.0,2215.3 1269.4,2212.5 C1273.8,2209.6 1277.4,2205.1 1277.1,2202.4 C1276.9,2199.6 1272.0,2196.3 1267.8,2196.1 C1263.7,2196.0 1256.4,2197.6 1252.3,2201.6 C1248.2,2205.6 1244.0,2214.0 1243.0,2220.2 C1241.9,2226.4 1243.0,2234.6 1246.1,2238.9 C1249.2,2243.1 1256.2,2245.3 1261.6,2245.8 C1267.0,2246.4 1274.3,2243.9 1278.7,2242.0 C1283.1,2240.0 1286.5,2235.5 1288.0,2234.2" fill="none" stroke="#acacac" stroke-width="13.5" stroke-linecap="round" stroke-linejoin="round" vector-effect="non-scaling-stroke"/><path d="M1298.9,2196.1 C1298.1,2201.2 1296.0,2216.5 1294.2,2226.4 C1292.4,2236.4 1289.8,2246.5 1288.0,2255.9 C1286.2,2265.4 1284.1,2278.6 1283.4,2283.1" fill="none" stroke="#acacac" stroke-width="16.0" stroke-linecap="round" stroke-linejoin="round" vector-effect="non-scaling-stroke"/><path d="M1298.9,2204.7 C1301.2,2203.4 1308.2,2197.4 1312.9,2196.9 C1317.5,2196.4 1324.0,2197.7 1326.8,2201.6 C1329.7,2205.5 1331.2,2214.0 1329.9,2220.2 C1328.6,2226.4 1323.0,2235.1 1319.1,2238.9 C1315.2,2242.6 1310.3,2243.3 1306.6,2242.7 C1303.0,2242.2 1298.9,2236.9 1297.3,2235.7" fill="none" stroke="#acacac" stroke-width="13.5" stroke-linecap="round" stroke-linejoin="round" vector-effect="non-scaling-stroke"/><path d="M1388.9,2201.6 C1385.8,2200.7 1376.3,2195.1 1370.3,2196.1 C1364.4,2197.2 1357.8,2202.2 1353.2,2207.8 C1348.7,2213.4 1343.4,2223.2 1343.1,2229.5 C1342.9,2235.9 1347.7,2244.0 1351.7,2245.8 C1355.7,2247.7 1361.8,2245.2 1367.2,2240.4 C1372.6,2235.6 1381.4,2221.0 1384.3,2217.1" fill="none" stroke="#acacac" stroke-width="14.5" stroke-linecap="round" stroke-linejoin="round" vector-effect="non-scaling-stroke"/><path d="M1389.7,2196.1 C1389.2,2200.2 1387.3,2212.6 1386.6,2220.2 C1386.0,2227.9 1384.7,2237.6 1385.8,2242.0 C1387.0,2246.4 1391.3,2246.4 1393.6,2246.6 C1395.9,2246.9 1398.8,2244.0 1399.8,2243.5" fill="none" stroke="#acacac" stroke-width="14.5" stroke-linecap="round" stroke-linejoin="round" vector-effect="non-scaling-stroke"/><path d="M1407.6,2196.1 C1407.1,2200.2 1405.2,2212.8 1404.5,2220.2 C1403.7,2227.6 1402.0,2236.0 1402.9,2240.4 C1403.8,2244.8 1407.6,2246.1 1409.9,2246.6 C1412.2,2247.1 1415.7,2244.0 1416.9,2243.5" fill="none" stroke="#acacac" stroke-width="14.5" stroke-linecap="round" stroke-linejoin="round" vector-effect="non-scaling-stroke"/><path d="M1434.0,2196.1 C1433.5,2200.2 1431.8,2211.9 1430.9,2220.2 C1430.0,2228.5 1428.9,2241.6 1428.5,2245.8" fill="none" stroke="#acacac" stroke-width="15.5" stroke-linecap="round" stroke-linejoin="round" vector-effect="non-scaling-stroke"/><path d="M1432.4,2210.9 C1434.2,2209.0 1439.4,2201.7 1443.3,2199.3 C1447.2,2196.8 1452.6,2195.8 1455.7,2196.1 C1458.8,2196.5 1460.9,2200.7 1461.9,2201.6" fill="none" stroke="#acacac" stroke-width="8.0" stroke-linecap="round" stroke-linejoin="round" vector-effect="non-scaling-stroke"/><path d="M1499.0,2179.9 C1498.2,2185.4 1495.9,2201.9 1494.3,2212.9 C1492.8,2223.9 1490.4,2240.4 1489.6,2245.8" fill="none" stroke="#acacac" stroke-width="16.0" stroke-linecap="round" stroke-linejoin="round" vector-effect="non-scaling-stroke"/><path d="M1470.8,2190.0 C1472.3,2187.3 1474.8,2177.5 1480.2,2173.8 C1485.6,2170.1 1495.2,2167.9 1503.1,2167.8 C1510.9,2167.7 1521.2,2169.2 1527.3,2173.2 C1533.4,2177.1 1538.7,2184.9 1539.4,2191.3 C1540.1,2197.7 1535.8,2206.6 1531.3,2211.5 C1526.8,2216.5 1517.9,2219.4 1512.5,2220.9 C1507.1,2222.5 1501.3,2220.9 1499.0,2220.9" fill="none" stroke="#acacac" stroke-width="14.5" stroke-linecap="round" stroke-linejoin="round" vector-effect="non-scaling-stroke"/><path d="M1586.5,2198.1 C1583.8,2197.4 1575.7,2192.5 1570.4,2194.0 C1565.0,2195.6 1558.0,2201.7 1554.2,2207.5 C1550.4,2213.3 1547.3,2223.0 1547.5,2229.0 C1547.7,2235.1 1551.7,2242.0 1555.6,2243.8 C1559.4,2245.6 1565.7,2244.3 1570.4,2239.8 C1575.1,2235.3 1581.6,2220.7 1583.8,2216.9" fill="none" stroke="#acacac" stroke-width="14.5" stroke-linecap="round" stroke-linejoin="round" vector-effect="non-scaling-stroke"/><path d="M1589.2,2195.4 C1588.5,2199.0 1586.3,2209.7 1585.2,2216.9 C1584.0,2224.1 1581.8,2233.5 1582.5,2238.4 C1583.1,2243.4 1586.7,2245.4 1589.2,2246.5 C1591.7,2247.6 1595.9,2245.4 1597.3,2245.2" fill="none" stroke="#acacac" stroke-width="14.5" stroke-linecap="round" stroke-linejoin="round" vector-effect="non-scaling-stroke"/><path d="M1608.0,2195.4 C1607.6,2199.4 1606.3,2211.2 1605.4,2219.6 C1604.5,2228.0 1603.1,2241.5 1602.7,2245.8" fill="none" stroke="#acacac" stroke-width="15.5" stroke-linecap="round" stroke-linejoin="round" vector-effect="non-scaling-stroke"/><path d="M1608.0,2208.8 C1609.8,2207.0 1614.8,2200.3 1618.8,2198.1 C1622.9,2195.8 1629.1,2194.5 1632.3,2195.4 C1635.4,2196.3 1636.8,2202.1 1637.7,2203.5" fill="none" stroke="#acacac" stroke-width="8.0" stroke-linecap="round" stroke-linejoin="round" vector-effect="non-scaling-stroke"/><path d="M1655.8,2179.9 C1655.0,2184.7 1652.4,2199.8 1651.1,2208.8 C1649.9,2217.9 1647.5,2228.2 1648.4,2234.4 C1649.3,2240.6 1652.9,2244.7 1656.5,2245.8 C1660.1,2247.0 1667.7,2241.9 1670.0,2241.1" fill="none" stroke="#acacac" stroke-width="14.5" stroke-linecap="round" stroke-linejoin="round" vector-effect="non-scaling-stroke"/><path d="M1644.4,2195.4 L1672.7,2195.4" fill="none" stroke="#acacac" stroke-width="7.0" stroke-linecap="round" stroke-linejoin="round" vector-effect="non-scaling-stroke"/><path d="M1706.3,2206.1 C1704.7,2204.6 1701.1,2198.1 1696.9,2196.7 C1692.6,2195.4 1684.5,2195.6 1680.7,2198.1 C1676.9,2200.5 1673.1,2207.5 1674.0,2211.5 C1674.9,2215.6 1681.6,2218.9 1686.1,2222.3 C1690.6,2225.7 1699.1,2228.1 1700.9,2231.7 C1702.7,2235.3 1700.5,2241.6 1696.9,2243.8 C1693.3,2246.1 1683.6,2246.7 1679.4,2245.2 C1675.1,2243.6 1672.7,2236.2 1671.3,2234.4" fill="none" stroke="#acacac" stroke-width="14.5" stroke-linecap="round" stroke-linejoin="round" vector-effect="non-scaling-stroke"/><circle cx="940.6" cy="2192.3" r="8.0" fill="#acacac"/><circle cx="1024.4" cy="2176.7" r="7.2" fill="#acacac"/><circle cx="1155.6" cy="2204.7" r="6.5" fill="#acacac"/><circle cx="1176.2" cy="2193.8" r="6.0" fill="#acacac"/><circle cx="1410.7" cy="2176.7" r="7.2" fill="#acacac"/><circle cx="1459.6" cy="2203.1" r="6.5" fill="#acacac"/><circle cx="1471.4" cy="2190.7" r="7.0" fill="#acacac"/><circle cx="1635.0" cy="2204.8" r="6.0" fill="#acacac"/><circle cx="1707.0" cy="2207.5" r="6.0" fill="#acacac"/><circle cx="1672.0" cy="2233.1" r="6.0" fill="#acacac"/></g>
<line x1="1004.00" y1="2294.60" x2="1712.00" y2="2294.60" stroke="#b4b4b4" stroke-width="2.20"/>
<path d="M919,2288 L919,2305 Q931,2311 943,2305 L943,2288" fill="#fff" stroke="#b0b0b0" stroke-width="2.00"/>
<ellipse cx="931" cy="2287" rx="12" ry="5.5" fill="#fff" stroke="#b0b0b0" stroke-width="2"/>
<ellipse cx="931" cy="2287" rx="5" ry="2.2" fill="none" stroke="#b0b0b0" stroke-width="1.3"/>
<line x1="919.00" y1="2297.00" x2="943.00" y2="2297.00" stroke="#b0b0b0" stroke-width="1.50"/>
<path d="M943,2290 L953,2295 L943,2300" fill="none" stroke="#b0b0b0" stroke-width="1.50"/>
<path d="M953.0,2295 q3.5,-3 7,0 q-3.5,3 -7,0M960.0,2295 q3.5,-3 7,0 q-3.5,3 -7,0M967.0,2295 q3.5,-3 7,0 q-3.5,3 -7,0M974.0,2295 q3.5,-3 7,0 q-3.5,3 -7,0M981.0,2295 q3.5,-3 7,0 q-3.5,3 -7,0M988.0,2295 q3.5,-3 7,0 q-3.5,3 -7,0M995.0,2295 q3.5,-3 7,0 q-3.5,3 -7,0" fill="none" stroke="#b0b0b0" stroke-width="1.40"/>
<path d="M725,2242 Q724,2290 740,2297 Q790,2316 840,2303" fill="none" stroke="#b0b0b0" stroke-width="2.40"/>
<path d="M726,2232 Q728,2205 760,2200 L770,2198 M838,2200 Q856,2206 856,2236 L858,2250" fill="none" stroke="#b0b0b0" stroke-width="2.00"/>
<path d="M726,2237 Q735,2258 764,2257" fill="none" stroke="#b0b0b0" stroke-width="2.00"/>
<ellipse cx="792" cy="2224" rx="44" ry="21" fill="#fff" stroke="#b0b0b0" stroke-width="2.2"/>
<path d="M752,2236 Q792,2256 832,2236" fill="none" stroke="#b8b8b8" stroke-width="5.00"/>
<ellipse cx="792" cy="2218" rx="34" ry="13" fill="#fff" stroke="#b0b0b0" stroke-width="2"/>
<path d="M768,2180 L768,2214 Q792,2226 815,2214 L815,2180" fill="#fff" stroke="#b0b0b0" stroke-width="2.00"/>
<path d="M768,2193 Q792,2202 815,2193" fill="none" stroke="#b0b0b0" stroke-width="1.80"/>
<path d="M768,2200 Q792,2209 815,2200" fill="none" stroke="#b0b0b0" stroke-width="1.80"/>
<path d="M768,2207 Q792,2216 815,2207" fill="none" stroke="#b0b0b0" stroke-width="1.80"/>
<path d="M774,2135 L774,2186 Q792,2194 810,2186 L810,2135" fill="#fff" stroke="#b0b0b0" stroke-width="2.00"/>
<ellipse cx="792" cy="2135" rx="18" ry="8" fill="#fff" stroke="#b0b0b0" stroke-width="2"/>
<line x1="783.00" y1="2146.00" x2="783.00" y2="2187.00" stroke="#b0b0b0" stroke-width="2.00"/>
<path d="M766,2256 L858,2238 Q876,2246 875,2252 L783,2290 Q770,2285 766,2256 Z" fill="#fff" stroke="#b0b0b0" stroke-width="2.00"/>
<path d="M789,2270 l6,-2 l2,6 l-6,2 z M797,2267 l6,-2 l2,6 l-6,2 z" fill="none" stroke="#b0b0b0" stroke-width="1.60"/>
<path d="M808,2262 l6,-2 l2,6 l-6,2 z M816,2259 l6,-2 l2,6 l-6,2 z" fill="none" stroke="#b0b0b0" stroke-width="1.60"/>
<path d="M829,2254 l6,-2 l2,6 l-6,2 z M837,2251 l6,-2 l2,6 l-6,2 z" fill="none" stroke="#b0b0b0" stroke-width="1.60"/>
<circle cx="758.00" cy="2258.00" r="9.00" fill="#fff" stroke="#b0b0b0" stroke-width="2.00"/>
<path d="M797,2290 L805,2312 M805,2287 L815,2310" fill="none" stroke="#b0b0b0" stroke-width="1.80"/>
<ellipse cx="811" cy="2322" rx="8" ry="12" fill="#fff" stroke="#b0b0b0" stroke-width="2"/>
<ellipse cx="811" cy="2322" rx="3.5" ry="6" fill="none" stroke="#b0b0b0" stroke-width="1.8"/>
<path d="M828,2281 L835,2299 M836,2278 L845,2297" fill="none" stroke="#b0b0b0" stroke-width="1.80"/>
<ellipse cx="841" cy="2309" rx="8" ry="12" fill="#fff" stroke="#b0b0b0" stroke-width="2"/>
<ellipse cx="841" cy="2309" rx="3.5" ry="6" fill="none" stroke="#b0b0b0" stroke-width="1.8"/>
<path d="M858,2270 L862,2287 M866,2267 L872,2285" fill="none" stroke="#b0b0b0" stroke-width="1.80"/>
<ellipse cx="868" cy="2297" rx="8" ry="12" fill="#fff" stroke="#b0b0b0" stroke-width="2"/>
<ellipse cx="868" cy="2297" rx="3.5" ry="6" fill="none" stroke="#b0b0b0" stroke-width="1.8"/>
<line x1="81.00" y1="1565.00" x2="81.00" y2="2027.00" stroke="#262626" stroke-width="5.00"/>
<line x1="2295.00" y1="1565.00" x2="2295.00" y2="2027.00" stroke="#262626" stroke-width="5.00"/></svg>
</body></html>
